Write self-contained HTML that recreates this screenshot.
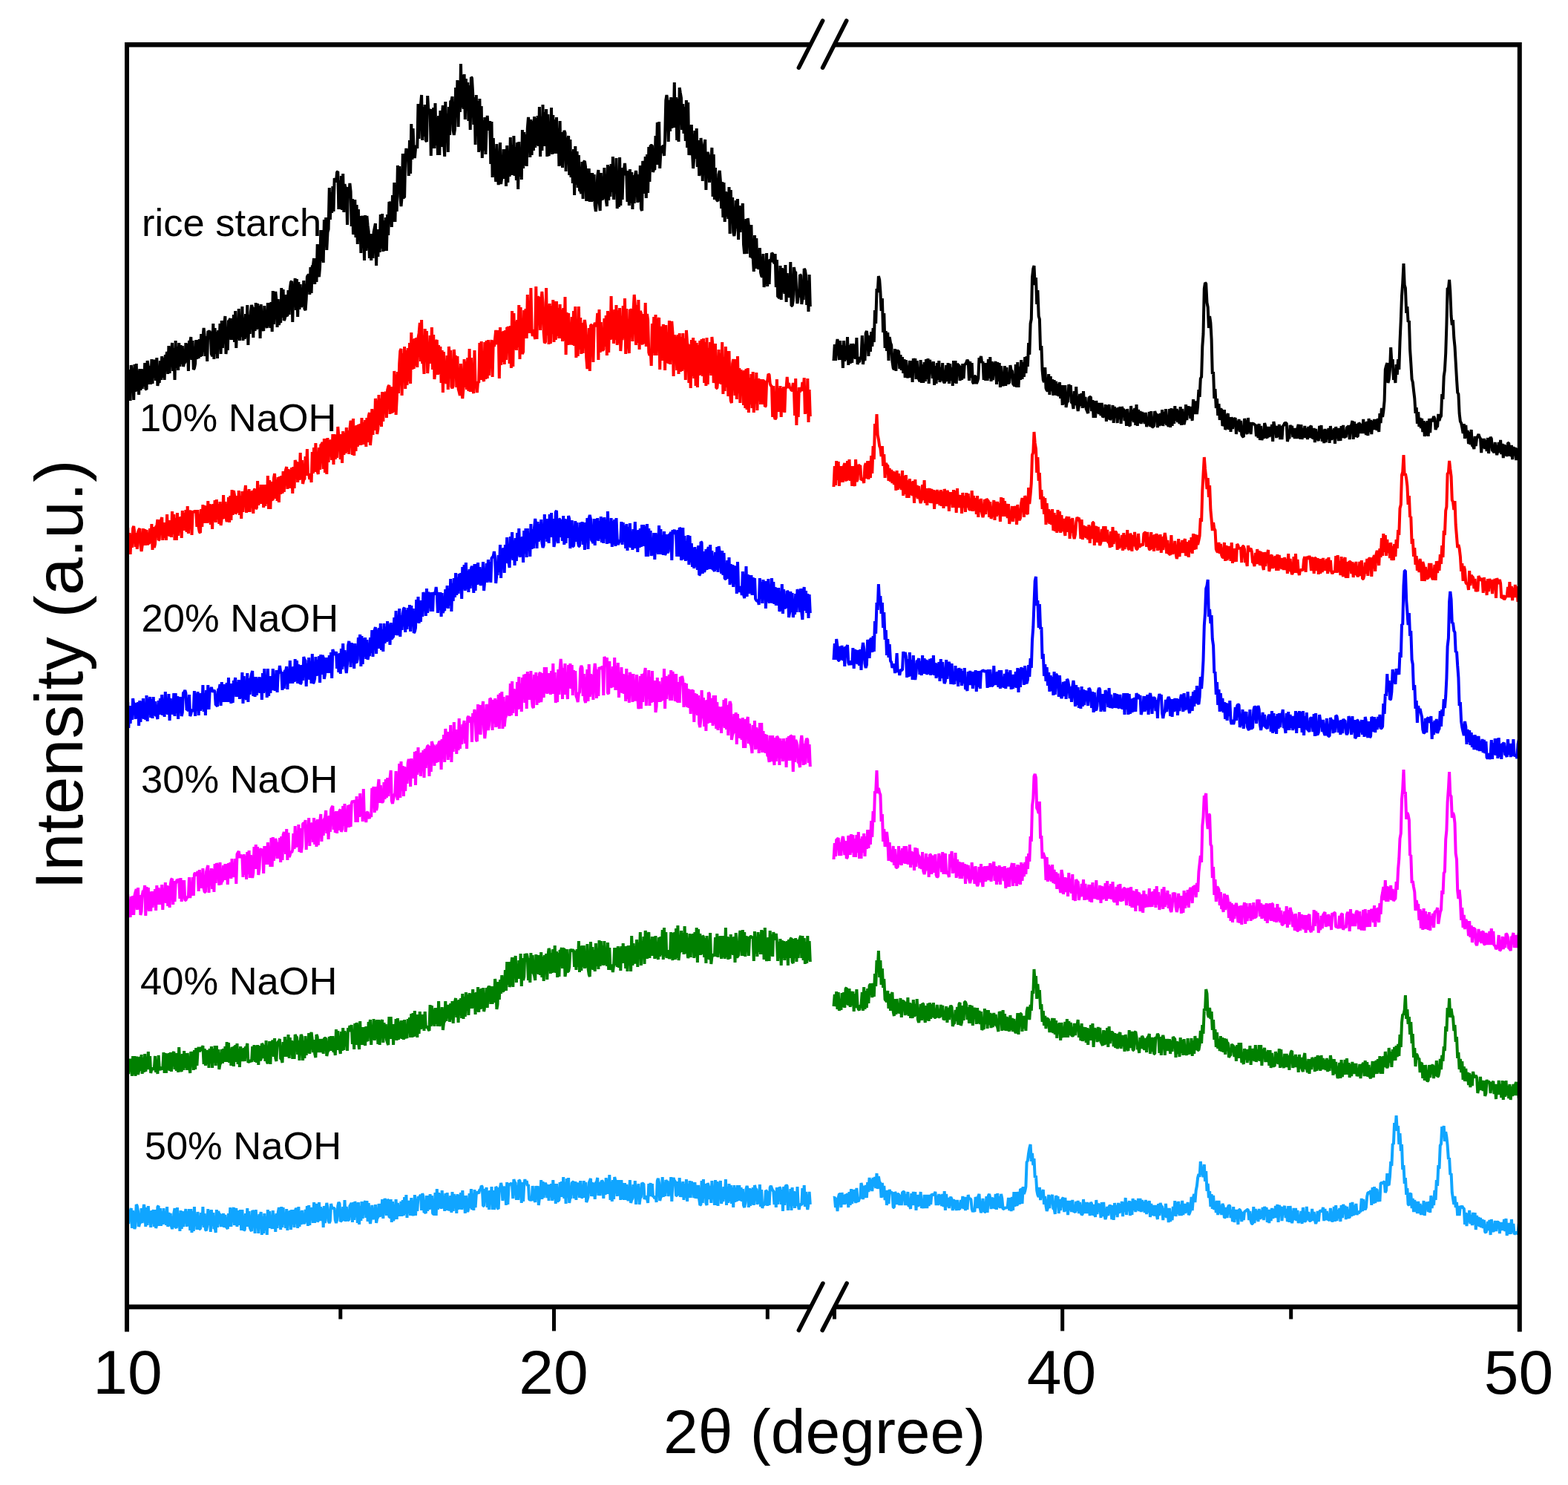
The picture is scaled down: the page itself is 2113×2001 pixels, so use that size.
<!DOCTYPE html>
<html><head><meta charset="utf-8"><title>XRD</title>
<style>html,body{margin:0;padding:0;background:#fff;}svg{display:block;}</style>
</head><body>
<svg xmlns="http://www.w3.org/2000/svg" width="2113" height="2001" viewBox="0 0 2113 2001">
<rect width="2113" height="2001" fill="#fff"/>
<g fill="none" stroke-width="4.0" stroke-linejoin="bevel" stroke-linecap="butt">
<polyline points="171,532 172.2,499 173.3,533 174.5,498 175.6,540 176.8,492 177.9,504 179.1,502 180.2,539 181.4,491 182.5,528 183.7,490 184.8,527 186,499 187.1,532 188.3,497 189.4,526 190.6,497 191.7,524 192.9,498 194,521 195.2,489 196.3,524 197.5,525 198.6,486 199.8,494 200.9,518 202.1,493 203.2,518 204.4,484 205.5,517 206.7,490 207.8,485 209,490 210.1,513 211.3,482 212.4,520 213.6,512 214.7,516 215.9,486 217,512 218.2,480 219.3,509 220.5,482 221.6,512 222.8,478 223.9,482 225.1,474 226.2,504 227.4,466 228.6,503 229.7,477 230.9,476 232,462 233.2,500 234.3,469 235.5,512 236.6,459 237.8,496 238.9,467 240.1,499 241.2,462 242.4,494 243.5,465 244.7,491 245.8,466 247,494 248.1,489 249.3,489 250.4,462 251.6,488 252.7,463 253.9,500 255,459 256.2,461 257.3,454 258.5,485 259.6,459 260.8,498 261.9,496 263.1,490 264.2,458 265.4,484 266.5,458 267.7,483 268.8,457 270,481 271.1,450 272.3,480 273.4,455 274.6,442 275.7,453 276.9,480 278,453 279.2,487 280.3,446 281.5,447 282.6,446 283.8,451 284.9,477 286.1,480 287.3,436 288.4,484 289.6,442 290.7,477 291.9,447 293,483 294.2,445 295.3,469 296.5,436 297.6,477 298.8,432 299.9,469 301.1,439 302.2,438 303.4,426 304.5,477 305.7,462 306.8,472 308,432 309.1,432 310.3,429 311.4,458 312.6,429 313.7,458 314.9,424 316,461 317.2,419 318.3,469 319.5,429 320.6,457 321.8,416 322.9,459 324.1,429 325.2,454 326.4,413 327.5,459 328.7,428 329.8,457 331,423 332.1,455 333.3,411 334.4,465 335.6,424 336.7,450 337.9,420 339,411 340.2,415 341.3,455 342.5,414 343.6,446 344.8,408 346,444 347.1,409 348.3,443 349.4,412 350.6,456 351.7,410 352.9,440 354,442 355.2,446 356.3,412 357.5,439 358.6,437 359.8,442 360.9,408 362.1,440 363.2,408 364.4,442 365.5,407 366.7,447 367.8,392 369,437 370.1,402 371.3,393 372.4,404 373.6,441 374.7,403 375.9,438 377,431 378.2,435 379.3,388 380.5,428 381.6,390 382.8,432 383.9,429 385.1,397 386.2,425 387.4,426 388.5,391 389.7,424 390.8,389 392,380 393.1,379 394.3,434 395.4,383 396.6,392 397.7,375 398.9,418 400,376 401.2,427 402.4,380 403.5,417 404.7,383 405.8,414 407,410 408.1,407 409.3,378 410.4,416 411.6,418 412.7,403 413.9,373 415,371 416.2,370 417.3,397 418.5,360 419.6,395 420.8,358 421.9,358 423.1,348 424.2,383 425.4,348 426.5,380 427.7,329 428.8,369 430,373 431.1,360 432.3,310 433.4,352 434.6,310 435.7,354 436.9,296 438,330 439.2,293 440.3,337 441.5,313 442.6,309 443.8,253 444.9,296 446.1,259 447.2,287 448.4,251 449.5,285 450.7,240 451.8,244 453,245 454.1,232 455.3,231 456.4,282 457.6,243 458.8,282 459.9,237 461.1,283 462.2,234 463.4,286 464.5,248 465.7,255 466.8,252 468,303 469.1,252 470.3,263 471.4,247 472.6,258 473.7,305 474.9,268 476,316 477.2,307 478.3,269 479.5,320 480.6,276 481.8,329 482.9,282 484.1,324 485.2,291 486.4,341 487.5,296 488.7,291 489.8,300 491,351 492.1,290 493.3,338 494.4,291 495.6,304 496.7,312 497.9,348 499,315 500.2,351 501.3,315 502.5,348 503.6,313 504.8,307 505.9,301 507.1,358 508.2,309 509.4,346 510.5,309 511.7,340 512.8,289 514,335 515.1,288 516.3,339 517.5,297 518.6,338 519.8,293 520.9,338 522.1,289 523.2,317 524.4,272 525.5,274 526.7,273 527.8,306 529,263 530.1,299 531.3,246 532.4,299 533.6,249 534.7,285 535.9,223 537,234 538.2,224 539.3,265 540.5,278 541.6,266 542.8,207 543.9,266 545.1,266 546.2,214 547.4,200 548.5,207 549.7,203 550.8,237 552,189 553.1,234 554.3,167 555.4,215 556.6,173 557.7,206 558.9,213 560,200 561.2,196 562.3,200 563.5,140 564.6,187 565.8,147 566.9,142 568.1,128 569.2,189 570.4,144 571.5,184 572.7,141 573.8,189 575,191 576.2,129 577.3,148 578.5,149 579.6,147 580.8,210 581.9,147 583.1,200 584.2,145 585.4,200 586.5,139 587.7,196 588.8,158 590,209 591.1,156 592.3,209 593.4,149 594.6,198 595.7,156 596.9,142 598,191 599.2,211 600.3,137 601.5,192 602.6,153 603.8,205 604.9,144 606.1,182 607.2,136 608.4,136 609.5,130 610.7,176 611.8,182 613,174 614.1,118 615.3,158 616.4,108 617.6,171 618.7,109 619.9,151 621,86 622.2,145 623.3,101 624.5,147 625.6,100 626.8,161 627.9,106 629.1,147 630.2,111 631.4,163 632.6,115 633.7,175 634.9,104 636,105 637.2,126 638.3,168 639.5,131 640.6,195 641.8,128 642.9,180 644.1,136 645.2,205 646.4,133 647.5,203 648.7,143 649.8,213 651,162 652.1,203 653.3,158 654.4,208 655.6,172 656.7,156 657.9,173 659,175 660.2,163 661.3,221 662.5,164 663.6,239 664.8,186 665.9,227 667.1,226 668.2,245 669.4,194 670.5,231 671.7,249 672.8,241 674,192 675.1,248 676.3,239 677.4,240 678.6,201 679.7,241 680.9,201 682,251 683.2,196 684.3,246 685.5,203 686.6,238 687.8,185 688.9,236 690.1,195 691.3,236 692.4,183 693.6,237 694.7,198 695.9,243 697,192 698.2,255 699.3,191 700.5,238 701.6,199 702.8,242 703.9,175 705.1,227 706.2,178 707.4,223 708.5,181 709.7,224 710.8,173 712,158 713.1,166 714.3,212 715.4,161 716.6,209 717.7,163 718.9,203 720,157 721.2,199 722.3,159 723.5,196 724.6,156 725.8,197 726.9,144 728.1,211 729.2,157 730.4,203 731.5,141 732.7,197 733.8,151 735,197 736.1,147 737.3,211 738.4,154 739.6,210 740.7,199 741.9,203 743,145 744.2,208 745.3,155 746.5,207 747.7,161 748.8,207 750,158 751.1,207 752.3,173 753.4,224 754.6,163 755.7,223 756.9,178 758,226 759.2,183 760.3,176 761.5,179 762.6,231 763.8,186 764.9,191 766.1,183 767.2,236 768.4,188 769.5,239 770.7,204 771.8,247 773,201 774.1,263 775.3,197 776.4,249 777.6,204 778.7,253 779.9,209 781,257 782.2,257 783.3,261 784.5,218 785.6,268 786.8,218 787.9,217 789.1,225 790.2,271 791.4,227 792.5,271 793.7,227 794.8,272 796,233 797.1,272 798.3,233 799.4,271 800.6,235 801.7,277 802.9,285 804,272 805.2,237 806.4,229 807.5,269 808.7,284 809.8,233 811,268 812.1,269 813.3,262 814.4,226 815.6,261 816.7,269 817.9,278 819,222 820.2,270 821.3,224 822.5,265 823.6,221 824.8,259 825.9,211 827.1,269 828.2,225 829.4,261 830.5,213 831.7,281 832.8,270 834,279 835.1,212 836.3,277 837.4,226 838.6,269 839.7,233 840.9,229 842,220 843.2,236 844.3,235 845.5,272 846.6,230 847.8,277 848.9,228 850.1,274 851.2,232 852.4,282 853.5,236 854.7,274 855.8,237 857,230 858.1,240 859.3,273 860.4,235 861.6,272 862.8,223 863.9,281 865.1,284 866.2,217 867.4,221 868.5,261 869.7,211 870.8,267 872,208 873.1,260 874.3,198 875.4,245 876.6,196 877.7,196 878.9,196 880,232 881.2,227 882.3,229 883.5,183 884.6,222 885.8,165 886.9,222 888.1,164 889.2,227 890.4,204 891.5,206 892.7,197 893.8,197 895,210 896.1,187 897.3,135 898.4,128 899.6,136 900.7,191 901.9,135 903,177 904.2,131 905.3,173 906.5,132 907.6,172 908.8,111 909.9,172 911.1,131 912.2,189 913.4,133 914.5,191 915.7,118 916.8,125 918,132 919.1,175 920.3,140 921.5,180 922.6,144 923.8,190 924.9,135 926.1,199 927.2,138 928.4,209 929.5,201 930.7,209 931.8,168 933,206 934.1,227 935.3,212 936.4,176 937.6,214 938.7,173 939.9,225 941,189 942.2,237 943.3,231 944.5,186 945.6,197 946.8,244 947.9,201 949.1,198 950.2,188 951.4,256 952.5,209 953.7,205 954.8,210 956,246 957.1,213 958.3,215 959.4,199 960.6,265 961.7,208 962.9,269 964,226 965.2,267 966.3,270 967.5,271 968.6,235 969.8,230 970.9,244 972.1,281 973.2,245 974.4,293 975.5,246 976.7,299 977.9,258 979,292 980.2,259 981.3,295 982.5,252 983.6,315 984.8,256 985.9,298 987.1,266 988.2,313 989.4,318 990.5,310 991.7,270 992.8,308 994,268 995.1,323 996.3,277 997.4,313 998.6,283 999.7,285 1000.9,274 1002,329 1003.2,342 1004.3,326 1005.5,295 1006.6,342 1007.8,294 1008.9,304 1010.1,304 1011.2,347 1012.4,303 1013.5,348 1014.7,347 1015.8,366 1017,317 1018.1,362 1019.3,321 1020.4,358 1021.6,361 1022.7,362 1023.9,334 1025,367 1026.2,372 1027.3,373 1028.5,342 1029.6,387 1030.8,377 1031.9,379 1033.1,341 1034.2,386 1035.4,350 1036.6,383 1037.7,349 1038.9,353 1040,341 1041.2,342 1042.3,352 1043.5,355 1044.6,342 1045.8,387 1046.9,350 1048.1,400 1049.2,400 1050.4,402 1051.5,358 1052.7,404 1053.8,361 1055,394 1056.1,362 1057.3,396 1058.4,357 1059.6,407 1060.7,368 1061.9,397 1063,399 1064.2,400 1065.3,353 1066.5,412 1067.6,412 1068.8,405 1069.9,360 1071.1,367 1072.2,366 1073.4,397 1074.5,409 1075.7,400 1076.8,399 1078,370 1079.1,371 1080.3,410 1081.4,402 1082.6,404 1083.7,362 1084.9,364 1086,371 1087.2,411 1088.3,378 1089.5,420 1090.6,370 1091.8,413" stroke="#000000"/>
<polyline points="1123.5,486 1124.8,464 1126,486 1127.2,466 1128.5,457 1129.7,466 1130.9,485 1132.2,459 1133.4,485 1134.6,465 1135.9,496 1137.1,459 1138.3,487 1139.6,466 1140.8,485 1142,454 1143.3,492 1144.5,465 1145.7,490 1147,463 1148.2,489 1149.4,463 1150.7,483 1151.9,464 1153.1,484 1154.4,455 1155.6,491 1156.8,487 1158.1,488 1159.3,481 1160.5,482 1161.8,452 1163,491 1164.2,481 1165.5,486 1166.7,449 1167.9,446 1169.2,456 1170.4,480 1171.6,452 1172.9,474 1174.1,447 1175.3,467 1176.6,442 1177.8,461 1179,418 1180.2,436 1181.5,389 1182.7,394 1183.9,372 1185.2,377 1186.4,393 1187.6,419 1188.9,402 1190.1,448 1191.3,422 1192.6,469 1193.8,446 1195,473 1196.3,448 1197.5,486 1198.7,454 1200,462 1201.2,465 1202.4,487 1203.7,496 1204.9,498 1206.1,470 1207.4,500 1208.6,473 1209.8,473 1211.1,473 1212.3,497 1213.5,478 1214.8,499 1216,481 1217.2,503 1218.5,484 1219.7,509 1220.9,485 1222.2,506 1223.4,509 1224.6,505 1225.9,486 1227.1,509 1228.3,486 1229.6,515 1230.8,483 1232,490 1233.3,483 1234.5,511 1235.7,486 1236.9,509 1238.2,511 1239.4,514 1240.6,485 1241.9,516 1243.1,491 1244.3,516 1245.6,488 1246.8,514 1248,484 1249.3,511 1250.5,483 1251.7,517 1253,485 1254.2,491 1255.4,489 1256.7,510 1257.9,487 1259.1,519 1260.4,493 1261.6,517 1262.8,489 1264.1,512 1265.3,486 1266.5,515 1267.8,495 1269,513 1270.2,489 1271.5,514 1272.7,516 1273.9,513 1275.2,492 1276.4,514 1277.6,489 1278.9,517 1280.1,490 1281.3,513 1282.6,495 1283.8,520 1285,486 1286.3,516 1287.5,486 1288.7,517 1290,490 1291.2,492 1292.4,492 1293.6,513 1294.9,493 1296.1,512 1297.3,490 1298.6,510 1299.8,491 1301,491 1302.3,488 1303.5,485 1304.7,487 1306,513 1307.2,487 1308.4,509 1309.7,489 1310.9,515 1312.1,517 1313.4,507 1314.6,507 1315.8,517 1317.1,514 1318.3,510 1319.5,482 1320.8,485 1322,480 1323.2,489 1324.5,487 1325.7,512 1326.9,489 1328.2,513 1329.4,489 1330.6,513 1331.9,484 1333.1,510 1334.3,481 1335.6,514 1336.8,487 1338,512 1339.3,495 1340.5,491 1341.7,487 1343,518 1344.2,488 1345.4,514 1346.7,489 1347.9,522 1349.1,493 1350.3,516 1351.6,520 1352.8,515 1354,493 1355.3,520 1356.5,495 1357.7,516 1359,516 1360.2,516 1361.4,492 1362.7,499 1363.9,500 1365.1,517 1366.4,519 1367.6,520 1368.8,491 1370.1,522 1371.3,488 1372.5,522 1373.8,494 1375,512 1376.2,485 1377.5,511 1378.7,488 1379.9,508 1381.2,481 1382.4,503 1383.6,480 1384.9,494 1386.1,462 1387.3,478 1388.6,436 1389.8,430 1391,374 1392.3,362 1393.5,358 1394.7,384 1396,374 1397.2,410 1398.4,391 1399.7,426 1400.9,430 1402.1,472 1403.4,466 1404.6,499 1405.8,512 1407,515 1408.3,495 1409.5,523 1410.7,526 1412,527 1413.2,504 1414.4,532 1415.7,507 1416.9,527 1418.1,511 1419.4,533 1420.6,512 1421.8,532 1423.1,514 1424.3,533 1425.5,517 1426.8,534 1428,515 1429.2,537 1430.5,519 1431.7,546 1432.9,519 1434.2,545 1435.4,519 1436.6,549 1437.9,541 1439.1,542 1440.3,518 1441.6,524 1442.8,519 1444,543 1445.3,543 1446.5,551 1447.7,527 1449,546 1450.2,521 1451.4,545 1452.7,554 1453.9,547 1455.1,531 1456.4,547 1457.6,530 1458.8,550 1460,527 1461.3,549 1462.5,535 1463.7,551 1465,554 1466.2,557 1467.4,536 1468.7,535 1469.9,535 1471.1,554 1472.4,539 1473.6,563 1474.8,540 1476.1,563 1477.3,540 1478.5,557 1479.8,543 1481,558 1482.2,543 1483.5,560 1484.7,543 1485.9,562 1487.2,561 1488.4,560 1489.6,545 1490.9,568 1492.1,546 1493.3,565 1494.6,545 1495.8,566 1497,563 1498.3,563 1499.5,546 1500.7,570 1502,548 1503.2,563 1504.4,550 1505.7,570 1506.9,549 1508.1,565 1509.4,548 1510.6,571 1511.8,548 1513.1,552 1514.3,551 1515.5,567 1516.7,552 1518,574 1519.2,551 1520.4,566 1521.7,573 1522.9,574 1524.1,547 1525.4,567 1526.6,552 1527.8,569 1529.1,550 1530.3,573 1531.5,545 1532.8,574 1534,552 1535.2,570 1536.5,554 1537.7,571 1538.9,555 1540.2,569 1541.4,556 1542.6,571 1543.9,556 1545.1,575 1546.3,571 1547.6,572 1548.8,555 1550,575 1551.3,554 1552.5,576 1553.7,575 1555,574 1556.2,554 1557.4,558 1558.7,558 1559.9,576 1561.1,558 1562.4,574 1563.6,557 1564.8,573 1566.1,552 1567.3,574 1568.5,555 1569.8,571 1571,551 1572.2,573 1573.4,571 1574.7,575 1575.9,551 1577.1,576 1578.4,550 1579.6,574 1580.8,551 1582.1,571 1583.3,547 1584.5,567 1585.8,551 1587,569 1588.2,553 1589.5,571 1590.7,548 1591.9,573 1593.2,551 1594.4,567 1595.6,572 1596.9,566 1598.1,545 1599.3,566 1600.6,549 1601.8,549 1603,549 1604.3,564 1605.5,548 1606.7,567 1608,538 1609.2,558 1610.4,543 1611.7,541 1612.9,558 1614.1,547 1615.4,525 1616.6,535 1617.8,510 1619.1,508 1620.3,467 1621.5,450 1622.8,389 1624,381 1625.2,382 1626.5,408 1627.7,414 1628.9,442 1630.1,426 1631.4,435 1632.6,457 1633.8,504 1635.1,501 1636.3,537 1637.5,524 1638.8,550 1640,537 1641.2,560 1642.5,544 1643.7,566 1644.9,551 1646.2,552 1647.4,574 1648.6,571 1649.9,552 1651.1,579 1652.3,576 1653.6,561 1654.8,557 1656,579 1657.3,562 1658.5,582 1659.7,562 1661,578 1662.2,565 1663.4,565 1664.7,563 1665.9,585 1667.1,567 1668.4,580 1669.6,565 1670.8,582 1672.1,567 1673.3,586 1674.5,588 1675.8,589 1677,564 1678.2,569 1679.5,582 1680.7,585 1681.9,563 1683.2,583 1684.4,569 1685.6,585 1686.8,570 1688.1,571 1689.3,571 1690.5,572 1691.8,573 1693,588 1694.2,572 1695.5,590 1696.7,571 1697.9,593 1699.2,574 1700.4,593 1701.6,588 1702.9,591 1704.1,570 1705.3,574 1706.6,589 1707.8,590 1709,575 1710.3,589 1711.5,575 1712.7,588 1714,572 1715.2,595 1716.4,568 1717.7,575 1718.9,575 1720.1,590 1721.4,574 1722.6,589 1723.8,572 1725.1,592 1726.3,574 1727.5,592 1728.8,574 1730,573 1731.2,570 1732.5,570 1733.7,570 1734.9,595 1736.2,589 1737.4,591 1738.6,573 1739.9,576 1741.1,574 1742.3,589 1743.5,577 1744.8,591 1746,577 1747.2,591 1748.5,577 1749.7,572 1750.9,590 1752.2,590 1753.4,572 1754.6,592 1755.9,577 1757.1,590 1758.3,574 1759.6,590 1760.8,577 1762,592 1763.3,575 1764.5,590 1765.7,575 1767,574 1768.2,590 1769.4,590 1770.7,577 1771.9,596 1773.1,578 1774.4,591 1775.6,591 1776.8,594 1778.1,574 1779.3,591 1780.5,573 1781.8,595 1783,579 1784.2,597 1785.5,578 1786.7,596 1787.9,579 1789.2,592 1790.4,577 1791.6,597 1792.9,574 1794.1,593 1795.3,579 1796.5,592 1797.8,577 1799,598 1800.2,575 1801.5,591 1802.7,577 1803.9,594 1805.2,577 1806.4,594 1807.6,574 1808.9,590 1810.1,573 1811.3,590 1812.6,588 1813.8,589 1815,576 1816.3,575 1817.5,574 1818.7,592 1820,574 1821.2,573 1822.4,567 1823.7,592 1824.9,568 1826.1,589 1827.4,571 1828.6,588 1829.8,588 1831.1,570 1832.3,571 1833.5,584 1834.8,571 1836,584 1837.2,565 1838.5,584 1839.7,569 1840.9,586 1842.2,568 1843.4,587 1844.6,564 1845.9,582 1847.1,566 1848.3,585 1849.6,567 1850.8,579 1852,565 1853.2,579 1854.5,565 1855.7,580 1856.9,564 1858.2,582 1859.4,557 1860.6,570 1861.9,550 1863.1,562 1864.3,554 1865.6,540 1866.8,498 1868,493 1869.3,489 1870.5,516 1871.7,511 1873,498 1874.2,468 1875.4,488 1876.7,484 1877.9,512 1879.1,501 1880.4,516 1881.6,491 1882.8,505 1884.1,484 1885.3,498 1886.5,461 1887.8,431 1889,399 1890.2,382 1891.5,355 1892.7,384 1893.9,388 1895.2,422 1896.4,413 1897.6,434 1898.9,432 1900.1,471 1901.3,489 1902.6,511 1903.8,515 1905,526 1906.3,537 1907.5,557 1908.7,549 1909.9,571 1911.2,555 1912.4,575 1913.6,563 1914.9,577 1916.1,564 1917.3,582 1918.6,567 1919.8,588 1921,569 1922.3,587 1923.5,567 1924.7,588 1926,564 1927.2,583 1928.4,564 1929.7,568 1930.9,565 1932.1,561 1933.4,564 1934.6,579 1935.8,575 1937.1,575 1938.3,558 1939.5,567 1940.8,562 1942,561 1943.2,531 1944.5,538 1945.7,507 1946.9,499 1948.2,476 1949.4,438 1950.6,388 1951.9,389 1953.1,377 1954.3,393 1955.6,426 1956.8,438 1958,431 1959.3,455 1960.5,467 1961.7,488 1963,511 1964.2,529 1965.4,531 1966.6,557 1967.9,568 1969.1,570 1970.3,576 1971.6,584 1972.8,571 1974,591 1975.3,573 1976.5,590 1977.7,580 1979,598 1980.2,582 1981.4,599 1982.7,579 1983.9,601 1985.1,601 1986.4,605 1987.6,588 1988.8,601 1990.1,590 1991.3,588 1992.5,585 1993.8,589 1995,591 1996.2,610 1997.5,591 1998.7,604 1999.9,591 2001.2,605 2002.4,593 2003.6,608 2004.9,590 2006.1,611 2007.3,594 2008.6,589 2009.8,591 2011,607 2012.3,608 2013.5,610 2014.7,596 2016,608 2017.2,613 2018.4,608 2019.7,596 2020.9,610 2022.1,593 2023.3,612 2024.6,598 2025.8,617 2027,599 2028.3,614 2029.5,600 2030.7,615 2032,597 2033.2,597 2034.4,614 2035.7,613 2036.9,600 2038.1,619 2039.4,602 2040.6,614 2041.8,603 2043.1,620 2044.3,604 2045.5,615 2046.8,604 2048,599" stroke="#000000"/>
<polyline points="171,743 172.2,711 173.3,743 174.5,718 175.6,747 176.8,720 177.9,738 179.1,712 180.2,709 181.4,719 182.5,737 183.7,718 184.8,740 186,717 187.1,714 188.3,712 189.4,735 190.6,743 191.7,735 192.9,712 194,735 195.2,713 196.3,735 197.5,714 198.6,734 199.8,732 200.9,733 202.1,712 203.2,732 204.4,706 205.5,741 206.7,710 207.8,738 209,733 210.1,709 211.3,709 212.4,700 213.6,728 214.7,727 215.9,702 217,701 218.2,697 219.3,728 220.5,704 221.6,725 222.8,704 223.9,728 225.1,693 226.2,722 227.4,701 228.6,723 229.7,701 230.9,724 232,689 233.2,720 234.3,693 235.5,728 236.6,698 237.8,728 238.9,691 240.1,722 241.2,697 242.4,717 243.5,696 244.7,725 245.8,688 247,715 248.1,691 249.3,715 250.4,687 251.6,717 252.7,682 253.9,719 255,692 256.2,690 257.3,688 258.5,721 259.6,689 260.8,690 261.9,689 263.1,689 264.2,689 265.4,710 266.5,687 267.7,711 268.8,717 270,718 271.1,686 272.3,710 273.4,680 274.6,705 275.7,681 276.9,705 278,682 279.2,705 280.3,675 281.5,704 282.6,679 283.8,707 284.9,680 286.1,713 287.3,679 288.4,702 289.6,674 290.7,704 291.9,673 293,700 294.2,679 295.3,706 296.5,676 297.6,708 298.8,699 299.9,699 301.1,667 302.2,699 303.4,676 304.5,697 305.7,703 306.8,696 308,670 309.1,704 310.3,668 311.4,701 312.6,660 313.7,694 314.9,661 316,667 317.2,692 318.3,691 319.5,668 320.6,691 321.8,661 322.9,694 324.1,668 325.2,699 326.4,662 327.5,690 328.7,666 329.8,663 331,654 332.1,691 333.3,661 334.4,690 335.6,659 336.7,690 337.9,662 339,684 340.2,661 341.3,692 342.5,660 343.6,659 344.8,686 346,684 347.1,648 348.3,681 349.4,657 350.6,679 351.7,653 352.9,679 354,653 355.2,684 356.3,653 357.5,682 358.6,653 359.8,679 360.9,641 362.1,686 363.2,647 364.4,686 365.5,649 366.7,673 367.8,674 369,644 370.1,638 371.3,672 372.4,646 373.6,675 374.7,643 375.9,677 377,642 378.2,666 379.3,641 380.5,665 381.6,635 382.8,663 383.9,638 385.1,633 386.2,629 387.4,659 388.5,632 389.7,658 390.8,633 392,658 393.1,630 394.3,665 395.4,629 396.6,658 397.7,620 398.9,624 400,622 401.2,650 402.4,623 403.5,647 404.7,610 405.8,646 407,620 408.1,652 409.3,646 410.4,646 411.6,615 412.7,641 413.9,605 415,639 416.2,639 417.3,646 418.5,638 419.6,650 420.8,609 421.9,638 423.1,603 424.2,636 425.4,597 426.5,631 427.7,635 428.8,639 430,603 431.1,633 432.3,599 433.4,599 434.6,596 435.7,632 436.9,591 438,637 439.2,591 440.3,639 441.5,590 442.6,623 443.8,595 444.9,595 446.1,593 447.2,620 448.4,585 449.5,626 450.7,585 451.8,619 453,586 454.1,617 455.3,575 456.4,588 457.6,586 458.8,619 459.9,585 461.1,624 462.2,581 463.4,613 464.5,583 465.7,611 466.8,576 468,609 469.1,580 470.3,612 471.4,578 472.6,567 473.7,570 474.9,613 476,564 477.2,614 478.3,574 479.5,608 480.6,573 481.8,602 482.9,572 484.1,600 485.2,571 486.4,600 487.5,563 488.7,599 489.8,569 491,599 492.1,566 493.3,602 494.4,563 495.6,596 496.7,561 497.9,556 499,600 500.2,587 501.3,551 502.5,586 503.6,553 504.8,580 505.9,537 507.1,546 508.2,585 509.4,578 510.5,532 511.7,573 512.8,537 514,575 515.1,528 516.3,568 517.5,534 518.6,531 519.8,528 520.9,563 522.1,526 523.2,521 524.4,519 525.5,558 526.7,521 527.8,555 529,555 530.1,553 531.3,500 532.4,514 533.6,559 534.7,538 535.9,501 537,530 538.2,490 539.3,473 540.5,470 541.6,533 542.8,476 543.9,511 545.1,467 546.2,524 547.4,472 548.5,519 549.7,469 550.8,514 552,462 553.1,517 554.3,448 555.4,498 556.6,457 557.7,497 558.9,456 560,493 561.2,455 562.3,495 563.5,455 564.6,449 565.8,435 566.9,487 568.1,431 569.2,490 570.4,485 571.5,504 572.7,443 573.8,488 575,446 576.2,503 577.3,487 578.5,489 579.6,452 580.8,490 581.9,441 583.1,498 584.2,451 585.4,511 586.5,501 587.7,461 588.8,458 590,505 591.1,465 592.3,504 593.4,467 594.6,516 595.7,472 596.9,529 598,474 599.2,512 600.3,512 601.5,517 602.6,479 603.8,525 604.9,467 606.1,483 607.2,472 608.4,521 609.5,523 610.7,520 611.8,471 613,485 614.1,479 615.3,522 616.4,480 617.6,524 618.7,528 619.9,533 621,490 622.2,529 623.3,537 624.5,523 625.6,484 626.8,522 627.9,487 629.1,525 630.2,482 631.4,527 632.6,470 633.7,528 634.9,482 636,521 637.2,525 638.3,530 639.5,472 640.6,520 641.8,514 642.9,529 644.1,514 645.2,516 646.4,462 647.5,512 648.7,460 649.8,511 651,510 652.1,514 653.3,461 654.4,511 655.6,459 656.7,510 657.9,458 659,506 660.2,469 661.3,470 662.5,458 663.6,508 664.8,459 665.9,467 667.1,456 668.2,445 669.4,464 670.5,461 671.7,445 672.8,510 674,441 675.1,492 676.3,447 677.4,488 678.6,446 679.7,491 680.9,445 682,485 683.2,441 684.3,442 685.5,441 686.6,490 687.8,439 688.9,496 690.1,419 691.3,494 692.4,422 693.6,471 694.7,433 695.9,472 697,431 698.2,468 699.3,411 700.5,484 701.6,414 702.8,464 703.9,477 705.1,474 706.2,418 707.4,456 708.5,416 709.7,456 710.8,397 712,449 713.1,405 714.3,449 715.4,388 716.6,444 717.7,453 718.9,444 720,451 721.2,457 722.3,386 723.5,457 724.6,400 725.8,401 726.9,403 728.1,445 729.2,406 730.4,393 731.5,408 732.7,448 733.8,462 735,461 736.1,388 737.3,452 738.4,411 739.6,464 740.7,409 741.9,463 743,412 744.2,450 745.3,404 746.5,461 747.7,406 748.8,458 750,406 751.1,453 752.3,415 753.4,456 754.6,410 755.7,456 756.9,417 758,460 759.2,415 760.3,459 761.5,400 762.6,478 763.8,421 764.9,465 766.1,422 767.2,464 768.4,462 769.5,463 770.7,427 771.8,465 773,419 774.1,466 775.3,413 776.4,482 777.6,430 778.7,480 779.9,413 781,471 782.2,428 783.3,477 784.5,435 785.6,476 786.8,439 787.9,431 789.1,440 790.2,482 791.4,497 792.5,482 793.7,442 794.8,500 796,438 797.1,438 798.3,443 799.4,488 800.6,439 801.7,435 802.9,437 804,440 805.2,422 806.4,485 807.5,417 808.7,475 809.8,434 811,471 812.1,472 813.3,471 814.4,429 815.6,467 816.7,425 817.9,479 819,419 820.2,475 821.3,421 822.5,458 823.6,399 824.8,457 825.9,419 827.1,463 828.2,417 829.4,458 830.5,411 831.7,465 832.8,418 834,463 835.1,415 836.3,473 837.4,457 838.6,458 839.7,412 840.9,456 842,402 843.2,477 844.3,416 845.5,469 846.6,457 847.8,476 848.9,417 850.1,418 851.2,417 852.4,460 853.5,418 854.7,397 855.8,410 857,465 858.1,411 859.3,462 860.4,404 861.6,471 862.8,419 863.9,422 865.1,462 866.2,464 867.4,423 868.5,463 869.7,408 870.8,467 872,423 873.1,431 874.3,475 875.4,479 876.6,471 877.7,493 878.9,436 880,476 881.2,427 882.3,479 883.5,424 884.6,479 885.8,441 886.9,433 888.1,428 889.2,498 890.4,444 891.5,440 892.7,486 893.8,437 895,447 896.1,499 897.3,438 898.4,486 899.6,488 900.7,488 901.9,432 903,491 904.2,443 905.3,433 906.5,449 907.6,507 908.8,451 909.9,488 911.1,453 912.2,499 913.4,451 914.5,504 915.7,449 916.8,501 918,454 919.1,500 920.3,449 921.5,498 922.6,456 923.8,512 924.9,445 926.1,462 927.2,466 928.4,516 929.5,464 930.7,523 931.8,458 933,507 934.1,455 935.3,510 936.4,459 937.6,520 938.7,462 939.9,522 941,465 942.2,506 943.3,459 944.5,505 945.6,457 946.8,507 947.9,456 949.1,516 950.2,461 951.4,520 952.5,455 953.7,518 954.8,469 956,503 957.1,461 958.3,506 959.4,454 960.6,467 961.7,516 962.9,506 964,463 965.2,523 966.3,523 967.5,511 968.6,471 969.8,517 970.9,476 972.1,518 973.2,461 974.4,531 975.5,481 976.7,527 977.9,467 979,522 980.2,473 981.3,534 982.5,473 983.6,522 984.8,540 985.9,543 987.1,490 988.2,484 989.4,492 990.5,533 991.7,484 992.8,538 994,480 995.1,530 996.3,496 997.4,543 998.6,498 999.7,533 1000.9,500 1002,546 1003.2,499 1004.3,550 1005.5,497 1006.6,552 1007.8,496 1008.9,556 1010.1,509 1011.2,545 1012.4,504 1013.5,550 1014.7,501 1015.8,556 1017,511 1018.1,544 1019.3,502 1020.4,553 1021.6,511 1022.7,512 1023.9,512 1025,545 1026.2,511 1027.3,545 1028.5,513 1029.6,513 1030.8,548 1031.9,547 1033.1,515 1034.2,513 1035.4,504 1036.6,505 1037.7,517 1038.9,520 1040,520 1041.2,562 1042.3,520 1043.5,561 1044.6,565 1045.8,563 1046.9,511 1048.1,555 1049.2,523 1050.4,555 1051.5,520 1052.7,562 1053.8,523 1055,555 1056.1,521 1057.3,556 1058.4,524 1059.6,522 1060.7,508 1061.9,523 1063,516 1064.2,523 1065.3,523 1066.5,526 1067.6,526 1068.8,516 1069.9,524 1071.1,560 1072.2,510 1073.4,573 1074.5,527 1075.7,562 1076.8,522 1078,528 1079.1,525 1080.3,526 1081.4,515 1082.6,527 1083.7,509 1084.9,558 1086,524 1087.2,557 1088.3,510 1089.5,569 1090.6,525 1091.8,561" stroke="#ff0000"/>
<polyline points="1123.5,656 1124.8,628 1126,654 1127.2,621 1128.5,647 1129.7,622 1130.9,655 1132.2,628 1133.4,650 1134.6,628 1135.9,650 1137.1,628 1138.3,624 1139.6,646 1140.8,648 1142,621 1143.3,647 1144.5,619 1145.7,648 1147,628 1148.2,655 1149.4,628 1150.7,650 1151.9,655 1153.1,619 1154.4,649 1155.6,646 1156.8,626 1158.1,628 1159.3,627 1160.5,647 1161.8,646 1163,645 1164.2,651 1165.5,628 1166.7,624 1167.9,645 1169.2,621 1170.4,646 1171.6,621 1172.9,644 1174.1,614 1175.3,638 1176.6,601 1177.8,619 1179,571 1180.2,586 1181.5,558 1182.7,586 1183.9,592 1185.2,601 1186.4,604 1187.6,615 1188.9,601 1190.1,628 1191.3,612 1192.6,644 1193.8,624 1195,627 1196.3,627 1197.5,648 1198.7,631 1200,649 1201.2,633 1202.4,651 1203.7,635 1204.9,653 1206.1,636 1207.4,661 1208.6,634 1209.8,660 1211.1,638 1212.3,658 1213.5,642 1214.8,660 1216,634 1217.2,668 1218.5,641 1219.7,666 1220.9,640 1222.2,671 1223.4,647 1224.6,671 1225.9,645 1227.1,667 1228.3,649 1229.6,668 1230.8,648 1232,678 1233.3,646 1234.5,670 1235.7,654 1236.9,672 1238.2,655 1239.4,672 1240.6,678 1241.9,674 1243.1,653 1244.3,674 1245.6,647 1246.8,678 1248,658 1249.3,681 1250.5,658 1251.7,677 1253,658 1254.2,678 1255.4,659 1256.7,678 1257.9,660 1259.1,686 1260.4,661 1261.6,679 1262.8,660 1264.1,679 1265.3,662 1266.5,681 1267.8,660 1269,682 1270.2,662 1271.5,685 1272.7,659 1273.9,664 1275.2,682 1276.4,661 1277.6,664 1278.9,689 1280.1,666 1281.3,664 1282.6,666 1283.8,684 1285,660 1286.3,684 1287.5,661 1288.7,691 1290,658 1291.2,684 1292.4,667 1293.6,684 1294.9,667 1296.1,692 1297.3,664 1298.6,684 1299.8,668 1301,690 1302.3,664 1303.5,684 1304.7,665 1306,686 1307.2,687 1308.4,686 1309.7,661 1310.9,689 1312.1,668 1313.4,688 1314.6,671 1315.8,693 1317.1,668 1318.3,697 1319.5,673 1320.8,690 1322,672 1323.2,691 1324.5,697 1325.7,692 1326.9,673 1328.2,693 1329.4,672 1330.6,674 1331.9,675 1333.1,697 1334.3,676 1335.6,699 1336.8,693 1338,693 1339.3,674 1340.5,701 1341.7,676 1343,696 1344.2,676 1345.4,694 1346.7,678 1347.9,703 1349.1,670 1350.3,696 1351.6,671 1352.8,696 1354,675 1355.3,696 1356.5,679 1357.7,698 1359,679 1360.2,706 1361.4,698 1362.7,697 1363.9,682 1365.1,703 1366.4,682 1367.6,698 1368.8,682 1370.1,707 1371.3,680 1372.5,697 1373.8,701 1375,698 1376.2,678 1377.5,671 1378.7,675 1379.9,697 1381.2,668 1382.4,673 1383.6,691 1384.9,693 1386.1,657 1387.3,679 1388.6,666 1389.8,651 1391,613 1392.3,610 1393.5,582 1394.7,597 1396,605 1397.2,637 1398.4,616 1399.7,648 1400.9,637 1402.1,673 1403.4,660 1404.6,686 1405.8,669 1407,693 1408.3,671 1409.5,707 1410.7,678 1412,704 1413.2,686 1414.4,706 1415.7,688 1416.9,707 1418.1,686 1419.4,715 1420.6,691 1421.8,716 1423.1,694 1424.3,718 1425.5,687 1426.8,716 1428,689 1429.2,718 1430.5,694 1431.7,716 1432.9,699 1434.2,715 1435.4,722 1436.6,700 1437.9,696 1439.1,717 1440.3,696 1441.6,726 1442.8,699 1444,718 1445.3,698 1446.5,721 1447.7,726 1449,720 1450.2,704 1451.4,697 1452.7,699 1453.9,698 1455.1,704 1456.4,726 1457.6,700 1458.8,727 1460,708 1461.3,724 1462.5,709 1463.7,725 1465,710 1466.2,727 1467.4,707 1468.7,732 1469.9,709 1471.1,726 1472.4,704 1473.6,704 1474.8,735 1476.1,712 1477.3,709 1478.5,731 1479.8,710 1481,728 1482.2,735 1483.5,731 1484.7,713 1485.9,730 1487.2,709 1488.4,730 1489.6,709 1490.9,730 1492.1,714 1493.3,731 1494.6,731 1495.8,738 1497,716 1498.3,737 1499.5,710 1500.7,733 1502,718 1503.2,716 1504.4,718 1505.7,741 1506.9,719 1508.1,739 1509.4,735 1510.6,736 1511.8,721 1513.1,742 1514.3,718 1515.5,740 1516.7,721 1518,737 1519.2,714 1520.4,739 1521.7,741 1522.9,719 1524.1,721 1525.4,743 1526.6,721 1527.8,736 1529.1,717 1530.3,736 1531.5,740 1532.8,740 1534,719 1535.2,737 1536.5,736 1537.7,734 1538.9,734 1540.2,735 1541.4,719 1542.6,718 1543.9,717 1545.1,737 1546.3,717 1547.6,734 1548.8,740 1550,741 1551.3,717 1552.5,740 1553.7,721 1555,743 1556.2,720 1557.4,738 1558.7,719 1559.9,742 1561.1,721 1562.4,741 1563.6,720 1564.8,745 1566.1,723 1567.3,741 1568.5,726 1569.8,718 1571,726 1572.2,746 1573.4,728 1574.7,746 1575.9,746 1577.1,748 1578.4,721 1579.6,746 1580.8,745 1582.1,744 1583.3,729 1584.5,746 1585.8,753 1587,747 1588.2,726 1589.5,750 1590.7,731 1591.9,745 1593.2,728 1594.4,745 1595.6,730 1596.9,726 1598.1,749 1599.3,745 1600.6,730 1601.8,751 1603,728 1604.3,744 1605.5,724 1606.7,746 1608,719 1609.2,741 1610.4,720 1611.7,740 1612.9,721 1614.1,734 1615.4,728 1616.6,722 1617.8,698 1619.1,703 1620.3,661 1621.5,639 1622.8,616 1624,632 1625.2,643 1626.5,659 1627.7,644 1628.9,670 1630.1,654 1631.4,687 1632.6,700 1633.8,715 1635.1,704 1636.3,713 1637.5,714 1638.8,740 1640,743 1641.2,744 1642.5,731 1643.7,746 1644.9,733 1646.2,748 1647.4,751 1648.6,751 1649.9,731 1651.1,756 1652.3,735 1653.6,755 1654.8,736 1656,753 1657.3,736 1658.5,756 1659.7,731 1661,759 1662.2,739 1663.4,757 1664.7,739 1665.9,757 1667.1,733 1668.4,735 1669.6,740 1670.8,738 1672.1,740 1673.3,758 1674.5,736 1675.8,736 1677,740 1678.2,758 1679.5,756 1680.7,763 1681.9,735 1683.2,743 1684.4,740 1685.6,739 1686.8,743 1688.1,758 1689.3,758 1690.5,763 1691.8,745 1693,760 1694.2,740 1695.5,760 1696.7,742 1697.9,762 1699.2,745 1700.4,745 1701.6,762 1702.9,768 1704.1,744 1705.3,763 1706.6,749 1707.8,747 1709,741 1710.3,770 1711.5,764 1712.7,749 1714,748 1715.2,766 1716.4,750 1717.7,765 1718.9,749 1720.1,769 1721.4,747 1722.6,769 1723.8,748 1725.1,766 1726.3,752 1727.5,767 1728.8,752 1730,768 1731.2,751 1732.5,768 1733.7,753 1734.9,773 1736.2,746 1737.4,770 1738.6,753 1739.9,769 1741.1,774 1742.3,771 1743.5,750 1744.8,772 1746,746 1747.2,772 1748.5,754 1749.7,770 1750.9,775 1752.2,768 1753.4,768 1754.6,768 1755.9,768 1757.1,754 1758.3,750 1759.6,771 1760.8,750 1762,752 1763.3,753 1764.5,749 1765.7,754 1767,769 1768.2,753 1769.4,751 1770.7,773 1771.9,752 1773.1,752 1774.4,769 1775.6,752 1776.8,774 1778.1,753 1779.3,773 1780.5,753 1781.8,771 1783,752 1784.2,769 1785.5,755 1786.7,769 1787.9,753 1789.2,773 1790.4,751 1791.6,770 1792.9,755 1794.1,770 1795.3,773 1796.5,771 1797.8,770 1799,770 1800.2,749 1801.5,772 1802.7,748 1803.9,771 1805.2,756 1806.4,775 1807.6,750 1808.9,771 1810.1,777 1811.3,755 1812.6,751 1813.8,779 1815,757 1816.3,779 1817.5,758 1818.7,757 1820,757 1821.2,773 1822.4,757 1823.7,778 1824.9,759 1826.1,775 1827.4,757 1828.6,774 1829.8,777 1831.1,774 1832.3,757 1833.5,776 1834.8,755 1836,780 1837.2,780 1838.5,775 1839.7,758 1840.9,773 1842.2,753 1843.4,776 1844.6,753 1845.9,752 1847.1,754 1848.3,777 1849.6,752 1850.8,752 1852,748 1853.2,770 1854.5,747 1855.7,742 1856.9,746 1858.2,762 1859.4,739 1860.6,751 1861.9,725 1863.1,749 1864.3,719 1865.6,744 1866.8,721 1868,749 1869.3,727 1870.5,745 1871.7,732 1873,752 1874.2,731 1875.4,755 1876.7,736 1877.9,755 1879.1,733 1880.4,750 1881.6,727 1882.8,739 1884.1,714 1885.3,721 1886.5,685 1887.8,680 1889,640 1890.2,636 1891.5,613 1892.7,641 1893.9,638 1895.2,645 1896.4,655 1897.6,680 1898.9,668 1900.1,697 1901.3,696 1902.6,733 1903.8,726 1905,750 1906.3,738 1907.5,761 1908.7,749 1909.9,769 1911.2,755 1912.4,771 1913.6,753 1914.9,761 1916.1,783 1917.3,757 1918.6,762 1919.8,783 1921,764 1922.3,780 1923.5,779 1924.7,779 1926,759 1927.2,778 1928.4,759 1929.7,778 1930.9,781 1932.1,778 1933.4,761 1934.6,782 1935.8,756 1937.1,772 1938.3,756 1939.5,769 1940.8,747 1942,760 1943.2,735 1944.5,751 1945.7,715 1946.9,721 1948.2,688 1949.4,683 1950.6,638 1951.9,637 1953.1,621 1954.3,632 1955.6,642 1956.8,674 1958,676 1959.3,687 1960.5,675 1961.7,707 1963,723 1964.2,738 1965.4,734 1966.6,739 1967.9,750 1969.1,770 1970.3,759 1971.6,783 1972.8,763 1974,768 1975.3,785 1976.5,787 1977.7,786 1979,795 1980.2,769 1981.4,789 1982.7,775 1983.9,777 1985.1,778 1986.4,793 1987.6,780 1988.8,797 1990.1,794 1991.3,797 1992.5,776 1993.8,779 1995,781 1996.2,782 1997.5,779 1998.7,799 1999.9,778 2001.2,796 2002.4,783 2003.6,802 2004.9,780 2006.1,797 2007.3,780 2008.6,784 2009.8,782 2011,800 2012.3,781 2013.5,786 2014.7,780 2016,806 2017.2,779 2018.4,783 2019.7,787 2020.9,781 2022.1,786 2023.3,806 2024.6,805 2025.8,802 2027,808 2028.3,806 2029.5,803 2030.7,804 2032,791 2033.2,805 2034.4,784 2035.7,805 2036.9,790 2038.1,809 2039.4,792 2040.6,805 2041.8,788 2043.1,805 2044.3,790 2045.5,811 2046.8,791 2048,793" stroke="#ff0000"/>
<polyline points="171,976 172.2,946 173.3,981 174.5,951 175.6,975 176.8,951 177.9,970 179.1,941 180.2,949 181.4,947 182.5,969 183.7,947 184.8,968 186,946 187.1,978 188.3,944 189.4,973 190.6,945 191.7,968 192.9,941 194,969 195.2,947 196.3,970 197.5,937 198.6,972 199.8,942 200.9,947 202.1,939 203.2,967 204.4,942 205.5,968 206.7,939 207.8,964 209,945 210.1,965 211.3,964 212.4,969 213.6,944 214.7,963 215.9,941 217,963 218.2,936 219.3,964 220.5,942 221.6,966 222.8,932 223.9,962 225.1,942 226.2,963 227.4,935 228.6,971 229.7,941 230.9,960 232,961 233.2,961 234.3,934 235.5,965 236.6,934 237.8,961 238.9,938 240.1,969 241.2,939 242.4,958 243.5,939 244.7,965 245.8,960 247,933 248.1,933 249.3,930 250.4,934 251.6,957 252.7,956 253.9,958 255,936 256.2,965 257.3,962 258.5,956 259.6,958 260.8,957 261.9,931 263.1,965 264.2,934 265.4,958 266.5,932 267.7,964 268.8,934 270,958 271.1,934 272.3,956 273.4,923 274.6,959 275.7,934 276.9,964 278,930 279.2,956 280.3,923 281.5,956 282.6,932 283.8,931 284.9,926 286.1,931 287.3,932 288.4,930 289.6,932 290.7,950 291.9,950 293,952 294.2,928 295.3,929 296.5,922 297.6,951 298.8,919 299.9,946 301.1,922 302.2,946 303.4,922 304.5,946 305.7,920 306.8,946 308,913 309.1,946 310.3,921 311.4,948 312.6,921 313.7,947 314.9,917 316,920 317.2,913 318.3,939 319.5,919 320.6,939 321.8,916 322.9,942 324.1,917 325.2,941 326.4,906 327.5,948 328.7,911 329.8,937 331,938 332.1,943 333.3,907 334.4,946 335.6,914 336.7,936 337.9,914 339,908 340.2,904 341.3,938 342.5,912 343.6,939 344.8,912 346,937 347.1,914 348.3,933 349.4,912 350.6,934 351.7,913 352.9,943 354,907 355.2,934 356.3,901 357.5,932 358.6,911 359.8,940 360.9,901 362.1,938 363.2,911 364.4,934 365.5,911 366.7,930 367.8,901 369,929 370.1,929 371.3,929 372.4,903 373.6,933 374.7,908 375.9,906 377,897 378.2,906 379.3,906 380.5,930 381.6,905 382.8,928 383.9,903 385.1,904 386.2,898 387.4,929 388.5,901 389.7,921 390.8,890 392,921 393.1,899 394.3,921 395.4,898 396.6,919 397.7,888 398.9,918 400,890 401.2,921 402.4,897 403.5,897 404.7,922 405.8,920 407,896 408.1,917 409.3,885 410.4,889 411.6,890 412.7,925 413.9,894 415,915 416.2,886 417.3,916 418.5,891 419.6,921 420.8,881 421.9,921 423.1,919 424.2,914 425.4,885 426.5,911 427.7,889 428.8,910 430,884 431.1,920 432.3,882 433.4,909 434.6,883 435.7,886 436.9,915 438,909 439.2,886 440.3,907 441.5,886 442.6,907 443.8,883 444.9,907 446.1,879 447.2,914 448.4,875 449.5,879 450.7,881 451.8,882 453,878 454.1,901 455.3,881 456.4,906 457.6,880 458.8,908 459.9,874 461.1,902 462.2,867 463.4,898 464.5,876 465.7,899 466.8,907 468,895 469.1,870 470.3,864 471.4,873 472.6,899 473.7,866 474.9,893 476,867 477.2,901 478.3,867 479.5,892 480.6,893 481.8,888 482.9,859 484.1,867 485.2,855 486.4,898 487.5,857 488.7,895 489.8,860 491,885 492.1,859 493.3,888 494.4,862 495.6,889 496.7,882 497.9,884 499,859 500.2,880 501.3,849 502.5,885 503.6,857 504.8,849 505.9,845 507.1,881 508.2,848 509.4,874 510.5,846 511.7,874 512.8,840 514,876 515.1,848 516.3,878 517.5,840 518.6,867 519.8,845 520.9,865 522.1,837 523.2,864 524.4,841 525.5,869 526.7,839 527.8,861 529,859 530.1,858 531.3,832 532.4,856 533.6,823 534.7,854 535.9,855 537,853 538.2,820 539.3,858 540.5,829 541.6,849 542.8,827 543.9,820 545.1,819 546.2,852 547.4,822 548.5,848 549.7,819 550.8,844 552,815 553.1,851 554.3,816 555.4,843 556.6,820 557.7,853 558.9,851 560,846 561.2,808 562.3,839 563.5,804 564.6,840 565.8,809 566.9,838 568.1,809 569.2,831 570.4,798 571.5,803 572.7,802 573.8,830 575,793 576.2,826 577.3,798 578.5,801 579.6,803 580.8,824 581.9,798 583.1,824 584.2,798 585.4,800 586.5,800 587.7,791 588.8,801 590,826 591.1,798 592.3,822 593.4,798 594.6,831 595.7,799 596.9,826 598,821 599.2,823 600.3,794 601.5,819 602.6,789 603.8,820 604.9,795 606.1,816 607.2,780 608.4,824 609.5,786 610.7,810 611.8,779 613,805 614.1,772 615.3,802 616.4,778 617.6,800 618.7,773 619.9,796 621,772 622.2,807 623.3,764 624.5,794 625.6,761 626.8,796 627.9,758 629.1,794 630.2,769 631.4,798 632.6,767 633.7,793 634.9,766 636,763 637.2,767 638.3,799 639.5,760 640.6,796 641.8,760 642.9,788 644.1,758 645.2,787 646.4,764 647.5,789 648.7,785 649.8,784 651,757 652.1,796 653.3,782 654.4,784 655.6,759 656.7,785 657.9,754 659,783 660.2,757 661.3,785 662.5,752 663.6,751 664.8,749 665.9,743 667.1,751 668.2,786 669.4,774 670.5,775 671.7,748 672.8,771 674,734 675.1,779 676.3,739 677.4,764 678.6,738 679.7,772 680.9,734 682,758 683.2,724 684.3,759 685.5,757 686.6,765 687.8,723 688.9,753 690.1,717 691.3,755 692.4,728 693.6,762 694.7,725 695.9,756 697,718 698.2,749 699.3,712 700.5,751 701.6,724 702.8,750 703.9,723 705.1,758 706.2,715 707.4,746 708.5,712 709.7,751 710.8,712 712,742 713.1,718 714.3,750 715.4,706 716.6,740 717.7,713 718.9,739 720,711 721.2,699 722.3,706 723.5,739 724.6,703 725.8,730 726.9,706 728.1,728 729.2,700 730.4,731 731.5,738 732.7,735 733.8,693 735,726 736.1,699 737.3,730 738.4,699 739.6,732 740.7,693 741.9,724 743,691 744.2,724 745.3,699 746.5,737 747.7,730 748.8,690 750,688 751.1,725 752.3,732 753.4,699 754.6,700 755.7,724 756.9,700 758,729 759.2,695 760.3,734 761.5,699 762.6,732 763.8,700 764.9,725 766.1,695 767.2,699 768.4,739 769.5,726 770.7,701 771.8,736 773,736 774.1,726 775.3,702 776.4,730 777.6,704 778.7,729 779.9,736 781,736 782.2,704 783.3,729 784.5,703 785.6,734 786.8,704 787.9,741 789.1,704 790.2,731 791.4,698 792.5,740 793.7,699 794.8,694 796,700 797.1,728 798.3,729 799.4,732 800.6,699 801.7,735 802.9,699 804,728 805.2,698 806.4,729 807.5,702 808.7,726 809.8,696 811,731 812.1,698 813.3,732 814.4,697 815.6,726 816.7,700 817.9,733 819,689 820.2,732 821.3,725 822.5,732 823.6,698 824.8,737 825.9,702 827.1,734 828.2,700 829.4,736 830.5,698 831.7,727 832.8,734 834,731 835.1,729 836.3,728 837.4,703 838.6,734 839.7,704 840.9,730 842,708 843.2,739 844.3,706 845.5,742 846.6,710 847.8,737 848.9,705 850.1,738 851.2,716 852.4,741 853.5,713 854.7,739 855.8,703 857,739 858.1,715 859.3,744 860.4,714 861.6,738 862.8,712 863.9,737 865.1,707 866.2,736 867.4,707 868.5,736 869.7,709 870.8,750 872,706 873.1,750 874.3,712 875.4,739 876.6,715 877.7,749 878.9,741 880,748 881.2,718 882.3,754 883.5,718 884.6,745 885.8,720 886.9,747 888.1,708 889.2,747 890.4,713 891.5,747 892.7,721 893.8,748 895,716 896.1,748 897.3,745 898.4,720 899.6,745 900.7,743 901.9,720 903,720 904.2,717 905.3,755 906.5,714 907.6,717 908.8,714 909.9,718 911.1,721 912.2,750 913.4,714 914.5,750 915.7,711 916.8,713 918,755 919.1,747 920.3,711 921.5,754 922.6,722 923.8,756 924.9,729 926.1,755 927.2,721 928.4,761 929.5,722 930.7,758 931.8,732 933,764 934.1,738 935.3,766 936.4,737 937.6,764 938.7,740 939.9,768 941,735 942.2,775 943.3,774 944.5,730 945.6,731 946.8,773 947.9,743 949.1,771 950.2,767 951.4,740 952.5,768 953.7,741 954.8,737 956,767 957.1,734 958.3,767 959.4,742 960.6,768 961.7,767 962.9,770 964,744 965.2,768 966.3,737 967.5,771 968.6,736 969.8,744 970.9,748 972.1,773 973.2,742 974.4,775 975.5,745 976.7,780 977.9,780 979,778 980.2,755 981.3,780 982.5,751 983.6,788 984.8,760 985.9,786 987.1,761 988.2,791 989.4,762 990.5,786 991.7,763 992.8,800 994,757 995.1,791 996.3,798 997.4,792 998.6,791 999.7,802 1000.9,770 1002,801 1003.2,806 1004.3,794 1005.5,763 1006.6,804 1007.8,774 1008.9,800 1010.1,775 1011.2,800 1012.4,775 1013.5,802 1014.7,778 1015.8,802 1017,779 1018.1,807 1019.3,809 1020.4,810 1021.6,809 1022.7,815 1023.9,779 1025,807 1026.2,784 1027.3,813 1028.5,781 1029.6,808 1030.8,783 1031.9,820 1033.1,783 1034.2,811 1035.4,780 1036.6,813 1037.7,790 1038.9,812 1040,779 1041.2,813 1042.3,784 1043.5,814 1044.6,791 1045.8,816 1046.9,792 1048.1,816 1049.2,792 1050.4,824 1051.5,820 1052.7,817 1053.8,787 1055,827 1056.1,794 1057.3,820 1058.4,818 1059.6,819 1060.7,796 1061.9,798 1063,832 1064.2,825 1065.3,797 1066.5,825 1067.6,799 1068.8,832 1069.9,824 1071.1,828 1072.2,800 1073.4,825 1074.5,794 1075.7,799 1076.8,801 1078,825 1079.1,793 1080.3,825 1081.4,835 1082.6,797 1083.7,791 1084.9,823 1086,796 1087.2,826 1088.3,800 1089.5,833 1090.6,801 1091.8,826" stroke="#0000ff"/>
<polyline points="1123.5,889 1124.8,867 1126,889 1127.2,861 1128.5,871 1129.7,890 1130.9,890 1132.2,871 1133.4,889 1134.6,870 1135.9,890 1137.1,872 1138.3,898 1139.6,871 1140.8,873 1142,869 1143.3,893 1144.5,896 1145.7,892 1147,892 1148.2,896 1149.4,873 1150.7,901 1151.9,875 1153.1,894 1154.4,876 1155.6,895 1156.8,876 1158.1,897 1159.3,875 1160.5,903 1161.8,876 1163,866 1164.2,874 1165.5,894 1166.7,900 1167.9,896 1169.2,862 1170.4,867 1171.6,887 1172.9,862 1174.1,860 1175.3,879 1176.6,857 1177.8,878 1179,837 1180.2,854 1181.5,812 1182.7,822 1183.9,787 1185.2,812 1186.4,803 1187.6,827 1188.9,812 1190.1,846 1191.3,825 1192.6,862 1193.8,849 1195,883 1196.3,861 1197.5,886 1198.7,868 1200,891 1201.2,892 1202.4,900 1203.7,895 1204.9,897 1206.1,907 1207.4,900 1208.6,880 1209.8,906 1211.1,902 1212.3,910 1213.5,903 1214.8,903 1216,903 1217.2,878 1218.5,886 1219.7,879 1220.9,885 1222.2,913 1223.4,888 1224.6,912 1225.9,879 1227.1,911 1228.3,889 1229.6,916 1230.8,883 1232,907 1233.3,916 1234.5,907 1235.7,890 1236.9,891 1238.2,887 1239.4,909 1240.6,891 1241.9,910 1243.1,883 1244.3,908 1245.6,887 1246.8,908 1248,889 1249.3,909 1250.5,890 1251.7,908 1253,888 1254.2,910 1255.4,887 1256.7,909 1257.9,883 1259.1,910 1260.4,893 1261.6,914 1262.8,894 1264.1,912 1265.3,892 1266.5,918 1267.8,888 1269,914 1270.2,892 1271.5,913 1272.7,921 1273.9,918 1275.2,889 1276.4,915 1277.6,895 1278.9,892 1280.1,898 1281.3,922 1282.6,894 1283.8,922 1285,916 1286.3,922 1287.5,897 1288.7,917 1290,901 1291.2,925 1292.4,900 1293.6,919 1294.9,901 1296.1,924 1297.3,904 1298.6,921 1299.8,900 1301,929 1302.3,926 1303.5,931 1304.7,905 1306,923 1307.2,904 1308.4,923 1309.7,905 1310.9,928 1312.1,905 1313.4,923 1314.6,903 1315.8,932 1317.1,904 1318.3,926 1319.5,904 1320.8,928 1322,904 1323.2,905 1324.5,903 1325.7,904 1326.9,905 1328.2,904 1329.4,905 1330.6,927 1331.9,902 1333.1,926 1334.3,902 1335.6,923 1336.8,924 1338,924 1339.3,897 1340.5,923 1341.7,906 1343,923 1344.2,905 1345.4,926 1346.7,903 1347.9,928 1349.1,903 1350.3,923 1351.6,925 1352.8,925 1354,908 1355.3,928 1356.5,902 1357.7,925 1359,906 1360.2,925 1361.4,903 1362.7,929 1363.9,909 1365.1,928 1366.4,909 1367.6,926 1368.8,905 1370.1,927 1371.3,900 1372.5,933 1373.8,901 1375,926 1376.2,899 1377.5,907 1378.7,900 1379.9,923 1381.2,897 1382.4,919 1383.6,921 1384.9,916 1386.1,896 1387.3,912 1388.6,887 1389.8,900 1391,863 1392.3,845 1393.5,813 1394.7,783 1396,777 1397.2,816 1398.4,809 1399.7,846 1400.9,814 1402.1,848 1403.4,845 1404.6,888 1405.8,881 1407,911 1408.3,895 1409.5,918 1410.7,899 1412,924 1413.2,906 1414.4,932 1415.7,910 1416.9,931 1418.1,912 1419.4,937 1420.6,905 1421.8,936 1423.1,908 1424.3,910 1425.5,913 1426.8,939 1428,910 1429.2,935 1430.5,941 1431.7,936 1432.9,919 1434.2,938 1435.4,918 1436.6,942 1437.9,915 1439.1,917 1440.3,924 1441.6,941 1442.8,925 1444,946 1445.3,925 1446.5,917 1447.7,927 1449,952 1450.2,923 1451.4,950 1452.7,926 1453.9,954 1455.1,930 1456.4,955 1457.6,925 1458.8,952 1460,929 1461.3,950 1462.5,932 1463.7,932 1465,934 1466.2,951 1467.4,927 1468.7,929 1469.9,934 1471.1,954 1472.4,932 1473.6,960 1474.8,933 1476.1,956 1477.3,957 1478.5,951 1479.8,932 1481,927 1482.2,929 1483.5,959 1484.7,935 1485.9,957 1487.2,935 1488.4,959 1489.6,930 1490.9,934 1492.1,933 1493.3,953 1494.6,927 1495.8,954 1497,936 1498.3,954 1499.5,952 1500.7,952 1502,934 1503.2,954 1504.4,937 1505.7,936 1506.9,953 1508.1,954 1509.4,936 1510.6,953 1511.8,954 1513.1,954 1514.3,934 1515.5,963 1516.7,934 1518,956 1519.2,934 1520.4,963 1521.7,935 1522.9,962 1524.1,942 1525.4,960 1526.6,941 1527.8,959 1529.1,940 1530.3,959 1531.5,934 1532.8,938 1534,936 1535.2,942 1536.5,937 1537.7,963 1538.9,958 1540.2,957 1541.4,938 1542.6,959 1543.9,938 1545.1,957 1546.3,936 1547.6,963 1548.8,940 1550,934 1551.3,941 1552.5,962 1553.7,941 1555,940 1556.2,941 1557.4,958 1558.7,943 1559.9,968 1561.1,942 1562.4,935 1563.6,941 1564.8,936 1566.1,961 1567.3,968 1568.5,961 1569.8,959 1571,943 1572.2,959 1573.4,943 1574.7,939 1575.9,942 1577.1,965 1578.4,942 1579.6,966 1580.8,942 1582.1,959 1583.3,941 1584.5,958 1585.8,941 1587,964 1588.2,942 1589.5,958 1590.7,942 1591.9,936 1593.2,941 1594.4,959 1595.6,934 1596.9,957 1598.1,940 1599.3,956 1600.6,932 1601.8,955 1603,961 1604.3,954 1605.5,938 1606.7,958 1608,932 1609.2,952 1610.4,930 1611.7,948 1612.9,924 1614.1,947 1615.4,949 1616.6,939 1617.8,912 1619.1,928 1620.3,912 1621.5,890 1622.8,843 1624,826 1625.2,793 1626.5,789 1627.7,781 1628.9,831 1630.1,821 1631.4,840 1632.6,829 1633.8,861 1635.1,870 1636.3,907 1637.5,905 1638.8,936 1640,919 1641.2,950 1642.5,929 1643.7,959 1644.9,934 1646.2,958 1647.4,941 1648.6,960 1649.9,946 1651.1,969 1652.3,947 1653.6,971 1654.8,948 1656,965 1657.3,944 1658.5,971 1659.7,976 1661,970 1662.2,976 1663.4,971 1664.7,953 1665.9,971 1667.1,951 1668.4,949 1669.6,950 1670.8,980 1672.1,975 1673.3,975 1674.5,956 1675.8,982 1677,959 1678.2,975 1679.5,959 1680.7,979 1681.9,982 1683.2,984 1684.4,956 1685.6,982 1686.8,981 1688.1,981 1689.3,957 1690.5,952 1691.8,953 1693,975 1694.2,960 1695.5,951 1696.7,956 1697.9,976 1699.2,984 1700.4,977 1701.6,960 1702.9,979 1704.1,963 1705.3,980 1706.6,980 1707.8,982 1709,966 1710.3,963 1711.5,965 1712.7,986 1714,958 1715.2,988 1716.4,961 1717.7,986 1718.9,965 1720.1,989 1721.4,962 1722.6,982 1723.8,961 1725.1,980 1726.3,962 1727.5,964 1728.8,956 1730,981 1731.2,979 1732.5,988 1733.7,961 1734.9,984 1736.2,959 1737.4,984 1738.6,963 1739.9,981 1741.1,965 1742.3,984 1743.5,965 1744.8,982 1746,958 1747.2,988 1748.5,960 1749.7,981 1750.9,958 1752.2,981 1753.4,959 1754.6,987 1755.9,958 1757.1,991 1758.3,965 1759.6,983 1760.8,960 1762,983 1763.3,984 1764.5,986 1765.7,968 1767,967 1768.2,969 1769.4,986 1770.7,962 1771.9,992 1773.1,961 1774.4,989 1775.6,990 1776.8,987 1778.1,963 1779.3,971 1780.5,971 1781.8,986 1783,970 1784.2,987 1785.5,991 1786.7,987 1787.9,968 1789.2,990 1790.4,992 1791.6,992 1792.9,967 1794.1,971 1795.3,970 1796.5,988 1797.8,970 1799,987 1800.2,964 1801.5,965 1802.7,972 1803.9,987 1805.2,971 1806.4,990 1807.6,970 1808.9,988 1810.1,969 1811.3,971 1812.6,971 1813.8,987 1815,990 1816.3,987 1817.5,965 1818.7,970 1820,971 1821.2,990 1822.4,965 1823.7,987 1824.9,970 1826.1,995 1827.4,993 1828.6,970 1829.8,971 1831.1,993 1832.3,972 1833.5,987 1834.8,970 1836,990 1837.2,970 1838.5,993 1839.7,966 1840.9,972 1842.2,989 1843.4,994 1844.6,972 1845.9,994 1847.1,992 1848.3,966 1849.6,968 1850.8,986 1852,966 1853.2,987 1854.5,969 1855.7,983 1856.9,966 1858.2,980 1859.4,963 1860.6,982 1861.9,981 1863.1,979 1864.3,948 1865.6,962 1866.8,935 1868,938 1869.3,908 1870.5,932 1871.7,917 1873,943 1874.2,942 1875.4,932 1876.7,902 1877.9,912 1879.1,915 1880.4,922 1881.6,901 1882.8,908 1884.1,903 1885.3,909 1886.5,879 1887.8,886 1889,841 1890.2,842 1891.5,789 1892.7,769 1893.9,769 1895.2,809 1896.4,824 1897.6,842 1898.9,826 1900.1,857 1901.3,850 1902.6,889 1903.8,895 1905,930 1906.3,923 1907.5,955 1908.7,944 1909.9,974 1911.2,951 1912.4,959 1913.6,955 1914.9,961 1916.1,966 1917.3,983 1918.6,988 1919.8,987 1921,968 1922.3,987 1923.5,968 1924.7,967 1926,972 1927.2,973 1928.4,965 1929.7,996 1930.9,973 1932.1,990 1933.4,971 1934.6,987 1935.8,969 1937.1,988 1938.3,984 1939.5,982 1940.8,958 1942,979 1943.2,956 1944.5,965 1945.7,942 1946.9,954 1948.2,938 1949.4,914 1950.6,871 1951.9,860 1953.1,811 1954.3,797 1955.6,808 1956.8,840 1958,839 1959.3,850 1960.5,852 1961.7,879 1963,878 1964.2,897 1965.4,913 1966.6,951 1967.9,946 1969.1,972 1970.3,980 1971.6,986 1972.8,991 1974,972 1975.3,979 1976.5,1003 1977.7,983 1979,1000 1980.2,984 1981.4,1004 1982.7,987 1983.9,1007 1985.1,991 1986.4,1010 1987.6,990 1988.8,1010 1990.1,992 1991.3,1011 1992.5,992 1993.8,1012 1995,998 1996.2,1012 1997.5,996 1998.7,1014 1999.9,997 2001.2,1015 2002.4,999 2003.6,1021 2004.9,1022 2006.1,1015 2007.3,1023 2008.6,1017 2009.8,997 2011,1023 2012.3,1001 2013.5,1017 2014.7,995 2016,1018 2017.2,995 2018.4,1022 2019.7,994 2020.9,1020 2022.1,1002 2023.3,1023 2024.6,1002 2025.8,1002 2027,1001 2028.3,1017 2029.5,1017 2030.7,1020 2032,996 2033.2,1017 2034.4,1002 2035.7,1020 2036.9,1002 2038.1,1019 2039.4,996 2040.6,1017 2041.8,1019 2043.1,1017 2044.3,1022 2045.5,1003 2046.8,997 2048,1018" stroke="#0000ff"/>
<polyline points="171,1235 172.2,1205 173.3,1228 174.5,1229 175.6,1236 176.8,1208 177.9,1233 179.1,1207 180.2,1233 181.4,1207 182.5,1202 183.7,1198 184.8,1226 186,1196 187.1,1225 188.3,1206 189.4,1233 190.6,1228 191.7,1206 192.9,1200 194,1202 195.2,1193 196.3,1234 197.5,1195 198.6,1226 199.8,1196 200.9,1228 202.1,1202 203.2,1228 204.4,1201 205.5,1223 206.7,1201 207.8,1220 209,1198 210.1,1227 211.3,1193 212.4,1219 213.6,1196 214.7,1219 215.9,1198 217,1219 218.2,1192 219.3,1226 220.5,1197 221.6,1216 222.8,1189 223.9,1217 225.1,1193 226.2,1221 227.4,1194 228.6,1223 229.7,1192 230.9,1185 232,1184 233.2,1219 234.3,1187 235.5,1215 236.6,1191 237.8,1188 238.9,1185 240.1,1189 241.2,1184 242.4,1211 243.5,1183 244.7,1215 245.8,1186 247,1211 248.1,1186 249.3,1213 250.4,1213 251.6,1210 252.7,1209 253.9,1207 255,1182 256.2,1210 257.3,1202 258.5,1206 259.6,1182 260.8,1207 261.9,1178 263.1,1176 264.2,1180 265.4,1178 266.5,1174 267.7,1201 268.8,1172 270,1197 271.1,1176 272.3,1197 273.4,1170 274.6,1197 275.7,1202 276.9,1202 278,1175 279.2,1170 280.3,1166 281.5,1203 282.6,1173 283.8,1192 284.9,1170 286.1,1198 287.3,1171 288.4,1202 289.6,1164 290.7,1190 291.9,1163 293,1167 294.2,1168 295.3,1193 296.5,1162 297.6,1192 298.8,1188 299.9,1187 301.1,1166 302.2,1186 303.4,1164 304.5,1186 305.7,1164 306.8,1192 308,1163 309.1,1183 310.3,1162 311.4,1184 312.6,1157 313.7,1181 314.9,1180 316,1180 317.2,1157 318.3,1191 319.5,1151 320.6,1149 321.8,1147 322.9,1156 324.1,1152 325.2,1154 326.4,1154 327.5,1182 328.7,1151 329.8,1179 331,1153 332.1,1185 333.3,1148 334.4,1178 335.6,1146 336.7,1183 337.9,1152 339,1173 340.2,1183 341.3,1176 342.5,1141 343.6,1171 344.8,1138 346,1171 347.1,1141 348.3,1179 349.4,1171 350.6,1145 351.7,1144 352.9,1146 354,1146 355.2,1177 356.3,1140 357.5,1165 358.6,1140 359.8,1165 360.9,1135 362.1,1165 363.2,1142 364.4,1168 365.5,1129 366.7,1168 367.8,1128 369,1160 370.1,1138 371.3,1130 372.4,1135 373.6,1157 374.7,1135 375.9,1157 377,1129 378.2,1162 379.3,1127 380.5,1159 381.6,1125 382.8,1121 383.9,1130 385.1,1151 386.2,1117 387.4,1159 388.5,1122 389.7,1155 390.8,1152 392,1147 393.1,1149 394.3,1145 395.4,1123 396.6,1144 397.7,1113 398.9,1142 400,1120 401.2,1141 402.4,1111 403.5,1148 404.7,1116 405.8,1149 407,1140 408.1,1110 409.3,1109 410.4,1112 411.6,1105 412.7,1145 413.9,1111 415,1135 416.2,1102 417.3,1140 418.5,1110 419.6,1111 420.8,1109 421.9,1135 423.1,1102 424.2,1138 425.4,1106 426.5,1141 427.7,1104 428.8,1139 430,1107 431.1,1107 432.3,1097 433.4,1134 434.6,1104 435.7,1126 436.9,1104 438,1102 439.2,1092 440.3,1123 441.5,1100 442.6,1131 443.8,1099 444.9,1121 446.1,1091 447.2,1088 448.4,1086 449.5,1118 450.7,1094 451.8,1122 453,1093 454.1,1123 455.3,1093 456.4,1119 457.6,1092 458.8,1091 459.9,1121 461.1,1117 462.2,1086 463.4,1113 464.5,1083 465.7,1121 466.8,1111 468,1108 469.1,1085 470.3,1115 471.4,1084 472.6,1114 473.7,1083 474.9,1079 476,1081 477.2,1079 478.3,1080 479.5,1108 480.6,1073 481.8,1108 482.9,1077 484.1,1101 485.2,1069 486.4,1100 487.5,1076 488.7,1107 489.8,1063 491,1104 492.1,1097 493.3,1108 494.4,1095 495.6,1094 496.7,1100 497.9,1103 499,1097 500.2,1101 501.3,1062 502.5,1066 503.6,1060 504.8,1095 505.9,1060 507.1,1092 508.2,1087 509.4,1061 510.5,1050 511.7,1082 512.8,1058 514,1080 515.1,1081 516.3,1080 517.5,1054 518.6,1077 519.8,1050 520.9,1075 522.1,1048 523.2,1073 524.4,1050 525.5,1049 526.7,1038 527.8,1079 529,1083 530.1,1077 531.3,1071 532.4,1069 533.6,1039 534.7,1071 535.9,1078 537,1065 538.2,1029 539.3,1075 540.5,1026 541.6,1066 542.8,1032 543.9,1073 545.1,1033 546.2,1066 547.4,1034 548.5,1056 549.7,1028 550.8,1023 552,1029 553.1,1060 554.3,1022 555.4,1049 556.6,1024 557.7,1049 558.9,1013 560,1058 561.2,1012 562.3,1044 563.5,1007 564.6,1041 565.8,1015 566.9,1046 568.1,1014 569.2,1039 570.4,1011 571.5,1048 572.7,1009 573.8,1035 575,1009 576.2,1005 577.3,1005 578.5,1046 579.6,1005 580.8,1040 581.9,999 583.1,1004 584.2,1004 585.4,1032 586.5,1005 587.7,1028 588.8,1003 590,1027 591.1,1002 592.3,999 593.4,1000 594.6,1037 595.7,996 596.9,1021 598,990 599.2,1027 600.3,982 601.5,993 602.6,992 603.8,1024 604.9,986 606.1,1020 607.2,977 608.4,1027 609.5,988 610.7,1013 611.8,973 613,1009 614.1,983 615.3,1016 616.4,983 617.6,1011 618.7,968 619.9,1009 621,979 622.2,1003 623.3,976 624.5,978 625.6,971 626.8,1002 627.9,974 629.1,1009 630.2,967 631.4,965 632.6,973 633.7,971 634.9,966 636,1000 637.2,961 638.3,967 639.5,956 640.6,966 641.8,997 642.9,999 644.1,949 645.2,989 646.4,950 647.5,990 648.7,953 649.8,957 651,945 652.1,981 653.3,995 654.4,984 655.6,949 656.7,953 657.9,984 659,977 660.2,941 661.3,942 662.5,950 663.6,984 664.8,943 665.9,975 667.1,941 668.2,980 669.4,943 670.5,979 671.7,936 672.8,982 674,934 675.1,969 676.3,932 677.4,982 678.6,939 679.7,979 680.9,967 682,965 683.2,937 684.3,964 685.5,938 686.6,965 687.8,921 688.9,964 690.1,918 691.3,961 692.4,928 693.6,955 694.7,929 695.9,965 697,919 698.2,956 699.3,912 700.5,955 701.6,921 702.8,959 703.9,913 705.1,921 706.2,909 707.4,947 708.5,908 709.7,955 710.8,905 712,943 713.1,908 714.3,943 715.4,904 716.6,941 717.7,952 718.9,954 720,909 721.2,943 722.3,906 723.5,950 724.6,911 725.8,947 726.9,908 728.1,906 729.2,946 730.4,934 731.5,907 732.7,940 733.8,899 735,934 736.1,899 737.3,935 738.4,907 739.6,934 740.7,907 741.9,936 743,904 744.2,935 745.3,894 746.5,935 747.7,906 748.8,947 750,938 751.1,946 752.3,902 753.4,936 754.6,902 755.7,888 756.9,901 758,942 759.2,900 760.3,936 761.5,894 762.6,936 763.8,926 764.9,942 766.1,896 767.2,927 768.4,894 769.5,928 770.7,896 771.8,937 773,903 774.1,930 775.3,904 776.4,938 777.6,941 778.7,946 779.9,934 781,933 782.2,901 783.3,897 784.5,900 785.6,938 786.8,908 787.9,943 789.1,947 790.2,936 791.4,902 792.5,945 793.7,895 794.8,939 796,908 797.1,936 798.3,909 799.4,943 800.6,906 801.7,894 802.9,904 804,941 805.2,902 806.4,938 807.5,899 808.7,901 809.8,900 811,899 812.1,899 813.3,937 814.4,885 815.6,888 816.7,898 817.9,886 819,934 820.2,935 821.3,891 822.5,924 823.6,925 824.8,926 825.9,898 827.1,926 828.2,886 829.4,930 830.5,897 831.7,930 832.8,893 834,940 835.1,906 836.3,933 837.4,899 838.6,934 839.7,908 840.9,935 842,909 843.2,945 844.3,901 845.5,942 846.6,910 847.8,947 848.9,906 850.1,912 851.2,912 852.4,946 853.5,908 854.7,942 855.8,944 857,940 858.1,909 859.3,940 860.4,955 861.6,951 862.8,911 863.9,955 865.1,908 866.2,946 867.4,909 868.5,908 869.7,900 870.8,951 872,915 873.1,942 874.3,903 875.4,951 876.6,912 877.7,947 878.9,904 880,944 881.2,944 882.3,917 883.5,960 884.6,952 885.8,913 886.9,946 888.1,918 889.2,944 890.4,944 891.5,943 892.7,913 893.8,944 895,901 896.1,955 897.3,911 898.4,942 899.6,914 900.7,916 901.9,909 903,944 904.2,903 905.3,944 906.5,905 907.6,915 908.8,911 909.9,945 911.1,908 912.2,945 913.4,945 914.5,919 915.7,947 916.8,912 918,917 919.1,911 920.3,917 921.5,953 922.6,920 923.8,951 924.9,921 926.1,953 927.2,928 928.4,954 929.5,929 930.7,962 931.8,930 933,931 934.1,930 935.3,973 936.4,934 937.6,962 938.7,935 939.9,964 941,937 942.2,975 943.3,980 944.5,968 945.6,930 946.8,968 947.9,940 949.1,979 950.2,944 951.4,985 952.5,943 953.7,975 954.8,933 956,935 957.1,974 958.3,946 959.4,941 960.6,978 961.7,937 962.9,976 964,937 965.2,982 966.3,946 967.5,984 968.6,952 969.8,981 970.9,953 972.1,988 973.2,952 974.4,979 975.5,943 976.7,981 977.9,941 979,983 980.2,950 981.3,991 982.5,954 983.6,945 984.8,949 985.9,997 987.1,990 988.2,987 989.4,962 990.5,988 991.7,960 992.8,1003 994,962 995.1,994 996.3,968 997.4,995 998.6,969 999.7,997 1000.9,967 1002,1008 1003.2,969 1004.3,1008 1005.5,973 1006.6,971 1007.8,966 1008.9,1002 1010.1,975 1011.2,1002 1012.4,1005 1013.5,1015 1014.7,977 1015.8,1003 1017,971 1018.1,1010 1019.3,980 1020.4,1009 1021.6,982 1022.7,1015 1023.9,974 1025,1011 1026.2,974 1027.3,1014 1028.5,985 1029.6,1014 1030.8,989 1031.9,1015 1033.1,990 1034.2,1018 1035.4,1019 1036.6,1027 1037.7,991 1038.9,1026 1040,1019 1041.2,991 1042.3,1019 1043.5,1031 1044.6,994 1045.8,1026 1046.9,992 1048.1,994 1049.2,997 1050.4,1031 1051.5,995 1052.7,1022 1053.8,998 1055,1026 1056.1,995 1057.3,1024 1058.4,999 1059.6,1034 1060.7,994 1061.9,1025 1063,992 1064.2,1025 1065.3,991 1066.5,992 1067.6,1002 1068.8,1040 1069.9,991 1071.1,1027 1072.2,997 1073.4,1000 1074.5,1004 1075.7,1028 1076.8,1028 1078,1034 1079.1,1000 1080.3,991 1081.4,1003 1082.6,1031 1083.7,1002 1084.9,1030 1086,999 1087.2,995 1088.3,997 1089.5,1028 1090.6,1003 1091.8,1033" stroke="#ff00ff"/>
<polyline points="1123.5,1158 1124.8,1136 1126,1154 1127.2,1131 1128.5,1131 1129.7,1129 1130.9,1153 1132.2,1135 1133.4,1153 1134.6,1133 1135.9,1127 1137.1,1134 1138.3,1152 1139.6,1133 1140.8,1157 1142,1155 1143.3,1126 1144.5,1131 1145.7,1152 1147,1124 1148.2,1149 1149.4,1125 1150.7,1155 1151.9,1130 1153.1,1155 1154.4,1125 1155.6,1149 1156.8,1121 1158.1,1157 1159.3,1130 1160.5,1157 1161.8,1127 1163,1149 1164.2,1123 1165.5,1154 1166.7,1127 1167.9,1144 1169.2,1118 1170.4,1143 1171.6,1118 1172.9,1138 1174.1,1106 1175.3,1128 1176.6,1093 1177.8,1108 1179,1066 1180.2,1068 1181.5,1038 1182.7,1069 1183.9,1062 1185.2,1068 1186.4,1071 1187.6,1107 1188.9,1097 1190.1,1134 1191.3,1117 1192.6,1141 1193.8,1127 1195,1121 1196.3,1133 1197.5,1160 1198.7,1135 1200,1157 1201.2,1160 1202.4,1160 1203.7,1140 1204.9,1166 1206.1,1144 1207.4,1169 1208.6,1169 1209.8,1168 1211.1,1140 1212.3,1165 1213.5,1146 1214.8,1166 1216,1143 1217.2,1163 1218.5,1140 1219.7,1164 1220.9,1140 1222.2,1163 1223.4,1163 1224.6,1163 1225.9,1138 1227.1,1169 1228.3,1147 1229.6,1165 1230.8,1148 1232,1173 1233.3,1142 1234.5,1168 1235.7,1143 1236.9,1152 1238.2,1153 1239.4,1170 1240.6,1154 1241.9,1171 1243.1,1148 1244.3,1174 1245.6,1178 1246.8,1172 1248,1150 1249.3,1173 1250.5,1155 1251.7,1182 1253,1151 1254.2,1152 1255.4,1178 1256.7,1156 1257.9,1153 1259.1,1176 1260.4,1151 1261.6,1179 1262.8,1182 1264.1,1181 1265.3,1150 1266.5,1157 1267.8,1157 1269,1175 1270.2,1148 1271.5,1178 1272.7,1154 1273.9,1150 1275.2,1178 1276.4,1174 1277.6,1176 1278.9,1182 1280.1,1151 1281.3,1157 1282.6,1147 1283.8,1177 1285,1157 1286.3,1176 1287.5,1149 1288.7,1183 1290,1158 1291.2,1181 1292.4,1161 1293.6,1184 1294.9,1162 1296.1,1184 1297.3,1162 1298.6,1180 1299.8,1164 1301,1191 1302.3,1165 1303.5,1184 1304.7,1166 1306,1185 1307.2,1190 1308.4,1184 1309.7,1162 1310.9,1185 1312.1,1168 1313.4,1191 1314.6,1167 1315.8,1189 1317.1,1194 1318.3,1191 1319.5,1168 1320.8,1189 1322,1164 1323.2,1186 1324.5,1195 1325.7,1169 1326.9,1169 1328.2,1188 1329.4,1167 1330.6,1186 1331.9,1167 1333.1,1186 1334.3,1163 1335.6,1188 1336.8,1167 1338,1169 1339.3,1161 1340.5,1187 1341.7,1167 1343,1192 1344.2,1168 1345.4,1188 1346.7,1166 1347.9,1192 1349.1,1170 1350.3,1170 1351.6,1170 1352.8,1187 1354,1167 1355.3,1197 1356.5,1170 1357.7,1195 1359,1169 1360.2,1195 1361.4,1170 1362.7,1169 1363.9,1163 1365.1,1194 1366.4,1163 1367.6,1190 1368.8,1168 1370.1,1194 1371.3,1165 1372.5,1191 1373.8,1166 1375,1192 1376.2,1162 1377.5,1187 1378.7,1164 1379.9,1181 1381.2,1162 1382.4,1178 1383.6,1154 1384.9,1171 1386.1,1150 1387.3,1161 1388.6,1127 1389.8,1134 1391,1086 1392.3,1076 1393.5,1046 1394.7,1043 1396,1048 1397.2,1089 1398.4,1091 1399.7,1096 1400.9,1080 1402.1,1130 1403.4,1126 1404.6,1157 1405.8,1149 1407,1153 1408.3,1156 1409.5,1186 1410.7,1155 1412,1188 1413.2,1165 1414.4,1186 1415.7,1167 1416.9,1188 1418.1,1165 1419.4,1190 1420.6,1172 1421.8,1191 1423.1,1175 1424.3,1198 1425.5,1177 1426.8,1195 1428,1194 1429.2,1203 1430.5,1172 1431.7,1179 1432.9,1205 1434.2,1198 1435.4,1182 1436.6,1202 1437.9,1183 1439.1,1208 1440.3,1176 1441.6,1202 1442.8,1184 1444,1204 1445.3,1178 1446.5,1213 1447.7,1204 1449,1214 1450.2,1185 1451.4,1188 1452.7,1188 1453.9,1213 1455.1,1206 1456.4,1208 1457.6,1191 1458.8,1208 1460,1185 1461.3,1213 1462.5,1191 1463.7,1208 1465,1212 1466.2,1208 1467.4,1192 1468.7,1215 1469.9,1192 1471.1,1216 1472.4,1189 1473.6,1210 1474.8,1209 1476.1,1210 1477.3,1186 1478.5,1212 1479.8,1209 1481,1212 1482.2,1193 1483.5,1217 1484.7,1194 1485.9,1212 1487.2,1195 1488.4,1211 1489.6,1190 1490.9,1214 1492.1,1187 1493.3,1211 1494.6,1194 1495.8,1211 1497,1191 1498.3,1212 1499.5,1188 1500.7,1214 1502,1215 1503.2,1213 1504.4,1195 1505.7,1220 1506.9,1192 1508.1,1214 1509.4,1191 1510.6,1215 1511.8,1198 1513.1,1214 1514.3,1197 1515.5,1197 1516.7,1199 1518,1220 1519.2,1200 1520.4,1197 1521.7,1199 1522.9,1221 1524.1,1195 1525.4,1223 1526.6,1200 1527.8,1223 1529.1,1201 1530.3,1228 1531.5,1198 1532.8,1220 1534,1204 1535.2,1203 1536.5,1228 1537.7,1220 1538.9,1205 1540.2,1230 1541.4,1200 1542.6,1223 1543.9,1205 1545.1,1220 1546.3,1221 1547.6,1220 1548.8,1197 1550,1222 1551.3,1202 1552.5,1222 1553.7,1201 1555,1219 1556.2,1198 1557.4,1223 1558.7,1194 1559.9,1219 1561.1,1202 1562.4,1226 1563.6,1218 1564.8,1218 1566.1,1198 1567.3,1225 1568.5,1195 1569.8,1222 1571,1203 1572.2,1219 1573.4,1200 1574.7,1224 1575.9,1205 1577.1,1226 1578.4,1229 1579.6,1221 1580.8,1203 1582.1,1205 1583.3,1203 1584.5,1222 1585.8,1229 1587,1223 1588.2,1204 1589.5,1223 1590.7,1207 1591.9,1231 1593.2,1207 1594.4,1230 1595.6,1200 1596.9,1224 1598.1,1203 1599.3,1220 1600.6,1199 1601.8,1223 1603,1200 1604.3,1196 1605.5,1200 1606.7,1217 1608,1194 1609.2,1196 1610.4,1193 1611.7,1209 1612.9,1190 1614.1,1202 1615.4,1175 1616.6,1164 1617.8,1153 1619.1,1162 1620.3,1113 1621.5,1101 1622.8,1072 1624,1074 1625.2,1069 1626.5,1106 1627.7,1117 1628.9,1097 1630.1,1098 1631.4,1138 1632.6,1140 1633.8,1183 1635.1,1168 1636.3,1206 1637.5,1185 1638.8,1215 1640,1195 1641.2,1196 1642.5,1199 1643.7,1220 1644.9,1202 1646.2,1225 1647.4,1222 1648.6,1229 1649.9,1204 1651.1,1226 1652.3,1211 1653.6,1206 1654.8,1213 1656,1237 1657.3,1215 1658.5,1241 1659.7,1217 1661,1243 1662.2,1219 1663.4,1238 1664.7,1222 1665.9,1217 1667.1,1223 1668.4,1243 1669.6,1221 1670.8,1244 1672.1,1220 1673.3,1246 1674.5,1221 1675.8,1223 1677,1216 1678.2,1245 1679.5,1217 1680.7,1241 1681.9,1222 1683.2,1237 1684.4,1217 1685.6,1241 1686.8,1220 1688.1,1239 1689.3,1216 1690.5,1236 1691.8,1236 1693,1235 1694.2,1212 1695.5,1220 1696.7,1212 1697.9,1235 1699.2,1217 1700.4,1238 1701.6,1219 1702.9,1237 1704.1,1219 1705.3,1241 1706.6,1217 1707.8,1244 1709,1218 1710.3,1239 1711.5,1217 1712.7,1241 1714,1218 1715.2,1218 1716.4,1240 1717.7,1241 1718.9,1223 1720.1,1243 1721.4,1218 1722.6,1241 1723.8,1223 1725.1,1243 1726.3,1227 1727.5,1246 1728.8,1246 1730,1242 1731.2,1228 1732.5,1245 1733.7,1221 1734.9,1250 1736.2,1226 1737.4,1246 1738.6,1223 1739.9,1229 1741.1,1231 1742.3,1249 1743.5,1232 1744.8,1254 1746,1231 1747.2,1253 1748.5,1254 1749.7,1254 1750.9,1229 1752.2,1254 1753.4,1233 1754.6,1234 1755.9,1249 1757.1,1252 1758.3,1233 1759.6,1257 1760.8,1233 1762,1253 1763.3,1234 1764.5,1232 1765.7,1254 1767,1256 1768.2,1248 1769.4,1254 1770.7,1226 1771.9,1248 1773.1,1228 1774.4,1234 1775.6,1230 1776.8,1257 1778.1,1248 1779.3,1253 1780.5,1234 1781.8,1251 1783,1233 1784.2,1231 1785.5,1229 1786.7,1249 1787.9,1233 1789.2,1248 1790.4,1232 1791.6,1248 1792.9,1234 1794.1,1253 1795.3,1230 1796.5,1234 1797.8,1230 1799,1230 1800.2,1249 1801.5,1249 1802.7,1248 1803.9,1251 1805.2,1234 1806.4,1251 1807.6,1232 1808.9,1231 1810.1,1253 1811.3,1248 1812.6,1249 1813.8,1250 1815,1232 1816.3,1229 1817.5,1233 1818.7,1255 1820,1225 1821.2,1248 1822.4,1231 1823.7,1248 1824.9,1232 1826.1,1248 1827.4,1230 1828.6,1227 1829.8,1232 1831.1,1252 1832.3,1228 1833.5,1250 1834.8,1253 1836,1250 1837.2,1226 1838.5,1254 1839.7,1225 1840.9,1249 1842.2,1231 1843.4,1249 1844.6,1226 1845.9,1249 1847.1,1229 1848.3,1225 1849.6,1228 1850.8,1243 1852,1220 1853.2,1249 1854.5,1224 1855.7,1241 1856.9,1223 1858.2,1243 1859.4,1217 1860.6,1232 1861.9,1209 1863.1,1203 1864.3,1195 1865.6,1213 1866.8,1186 1868,1215 1869.3,1194 1870.5,1215 1871.7,1195 1873,1212 1874.2,1193 1875.4,1213 1876.7,1198 1877.9,1214 1879.1,1212 1880.4,1211 1881.6,1188 1882.8,1199 1884.1,1171 1885.3,1157 1886.5,1130 1887.8,1123 1889,1077 1890.2,1064 1891.5,1037 1892.7,1070 1893.9,1067 1895.2,1104 1896.4,1095 1897.6,1098 1898.9,1105 1900.1,1153 1901.3,1152 1902.6,1190 1903.8,1187 1905,1195 1906.3,1202 1907.5,1227 1908.7,1213 1909.9,1220 1911.2,1218 1912.4,1240 1913.6,1225 1914.9,1251 1916.1,1227 1917.3,1253 1918.6,1224 1919.8,1252 1921,1228 1922.3,1252 1923.5,1232 1924.7,1253 1926,1229 1927.2,1254 1928.4,1234 1929.7,1247 1930.9,1231 1932.1,1250 1933.4,1229 1934.6,1228 1935.8,1228 1937.1,1223 1938.3,1245 1939.5,1237 1940.8,1229 1942,1226 1943.2,1200 1944.5,1205 1945.7,1176 1946.9,1175 1948.2,1131 1949.4,1119 1950.6,1081 1951.9,1063 1953.1,1040 1954.3,1071 1955.6,1073 1956.8,1102 1958,1095 1959.3,1099 1960.5,1109 1961.7,1150 1963,1158 1964.2,1200 1965.4,1211 1966.6,1199 1967.9,1213 1969.1,1240 1970.3,1223 1971.6,1250 1972.8,1233 1974,1252 1975.3,1239 1976.5,1242 1977.7,1244 1979,1261 1980.2,1241 1981.4,1263 1982.7,1247 1983.9,1270 1985.1,1251 1986.4,1251 1987.6,1252 1988.8,1271 1990.1,1274 1991.3,1268 1992.5,1252 1993.8,1269 1995,1255 1996.2,1271 1997.5,1256 1998.7,1255 1999.9,1272 2001.2,1273 2002.4,1257 2003.6,1273 2004.9,1258 2006.1,1273 2007.3,1255 2008.6,1273 2009.8,1251 2011,1273 2012.3,1255 2013.5,1274 2014.7,1274 2016,1279 2017.2,1277 2018.4,1275 2019.7,1260 2020.9,1281 2022.1,1280 2023.3,1276 2024.6,1262 2025.8,1279 2027,1263 2028.3,1277 2029.5,1258 2030.7,1259 2032,1263 2033.2,1278 2034.4,1278 2035.7,1281 2036.9,1262 2038.1,1263 2039.4,1257 2040.6,1277 2041.8,1260 2043.1,1277 2044.3,1260 2045.5,1277 2046.8,1257 2048,1278" stroke="#ff00ff"/>
<polyline points="171,1454 172.2,1428 173.3,1447 174.5,1429 175.6,1428 176.8,1429 177.9,1450 179.1,1423 180.2,1448 181.4,1423 182.5,1450 183.7,1424 184.8,1427 186,1448 187.1,1443 188.3,1424 189.4,1443 190.6,1421 191.7,1447 192.9,1425 194,1445 195.2,1420 196.3,1444 197.5,1424 198.6,1441 199.8,1417 200.9,1441 202.1,1423 203.2,1446 204.4,1440 205.5,1440 206.7,1441 207.8,1440 209,1423 210.1,1445 211.3,1439 212.4,1447 213.6,1422 214.7,1439 215.9,1442 217,1438 218.2,1440 219.3,1440 220.5,1418 221.6,1446 222.8,1419 223.9,1446 225.1,1420 226.2,1442 227.4,1419 228.6,1443 229.7,1418 230.9,1444 232,1420 233.2,1420 234.3,1417 235.5,1441 236.6,1419 237.8,1443 238.9,1419 240.1,1445 241.2,1411 242.4,1436 243.5,1441 244.7,1444 245.8,1420 247,1442 248.1,1416 249.3,1439 250.4,1419 251.6,1442 252.7,1419 253.9,1436 255,1437 256.2,1446 257.3,1417 258.5,1436 259.6,1417 260.8,1442 261.9,1415 263.1,1441 264.2,1412 265.4,1436 266.5,1417 267.7,1411 268.8,1417 270,1415 271.1,1411 272.3,1414 273.4,1409 274.6,1434 275.7,1413 276.9,1436 278,1415 279.2,1434 280.3,1415 281.5,1439 282.6,1413 283.8,1433 284.9,1410 286.1,1439 287.3,1413 288.4,1432 289.6,1409 290.7,1436 291.9,1409 293,1431 294.2,1414 295.3,1441 296.5,1434 297.6,1432 298.8,1414 299.9,1433 301.1,1413 302.2,1431 303.4,1410 304.5,1431 305.7,1404 306.8,1431 308,1405 309.1,1432 310.3,1413 311.4,1436 312.6,1411 313.7,1413 314.9,1437 316,1410 317.2,1410 318.3,1431 319.5,1406 320.6,1434 321.8,1413 322.9,1438 324.1,1410 325.2,1430 326.4,1413 327.5,1430 328.7,1412 329.8,1430 331,1410 332.1,1412 333.3,1406 334.4,1432 335.6,1430 336.7,1430 337.9,1429 339,1431 340.2,1410 341.3,1429 342.5,1408 343.6,1431 344.8,1409 346,1432 347.1,1408 348.3,1435 349.4,1409 350.6,1429 351.7,1427 352.9,1406 354,1408 355.2,1426 356.3,1408 357.5,1430 358.6,1402 359.8,1431 360.9,1433 362.1,1426 363.2,1403 364.4,1434 365.5,1405 366.7,1404 367.8,1402 369,1424 370.1,1399 371.3,1426 372.4,1430 373.6,1406 374.7,1404 375.9,1403 377,1400 378.2,1427 379.3,1427 380.5,1432 381.6,1404 382.8,1424 383.9,1397 385.1,1424 386.2,1401 387.4,1424 388.5,1394 389.7,1426 390.8,1398 392,1421 393.1,1402 394.3,1427 395.4,1403 396.6,1427 397.7,1394 398.9,1397 400,1397 401.2,1421 402.4,1402 403.5,1429 404.7,1401 405.8,1394 407,1397 408.1,1429 409.3,1402 410.4,1426 411.6,1396 412.7,1422 413.9,1401 415,1419 416.2,1392 417.3,1420 418.5,1395 419.6,1391 420.8,1401 421.9,1418 423.1,1401 424.2,1420 425.4,1425 426.5,1394 427.7,1397 428.8,1418 430,1400 431.1,1418 432.3,1400 433.4,1418 434.6,1400 435.7,1420 436.9,1399 438,1399 439.2,1399 440.3,1423 441.5,1417 442.6,1416 443.8,1397 444.9,1416 446.1,1396 447.2,1416 448.4,1396 449.5,1418 450.7,1414 451.8,1422 453,1387 454.1,1415 455.3,1389 456.4,1412 457.6,1412 458.8,1420 459.9,1390 461.1,1416 462.2,1385 463.4,1415 464.5,1389 465.7,1410 466.8,1391 468,1416 469.1,1385 470.3,1390 471.4,1382 472.6,1388 473.7,1381 474.9,1407 476,1388 477.2,1414 478.3,1379 479.5,1408 480.6,1378 481.8,1386 482.9,1404 484.1,1414 485.2,1376 486.4,1408 487.5,1384 488.7,1408 489.8,1384 491,1403 492.1,1409 493.3,1383 494.4,1401 495.6,1403 496.7,1377 497.9,1381 499,1374 500.2,1408 501.3,1381 502.5,1401 503.6,1373 504.8,1402 505.9,1375 507.1,1400 508.2,1374 509.4,1407 510.5,1374 511.7,1408 512.8,1379 514,1378 515.1,1374 516.3,1405 517.5,1378 518.6,1399 519.8,1380 520.9,1401 522.1,1405 523.2,1408 524.4,1370 525.5,1400 526.7,1370 527.8,1400 529,1380 530.1,1408 531.3,1380 532.4,1401 533.6,1373 534.7,1402 535.9,1372 537,1401 538.2,1377 539.3,1399 540.5,1375 541.6,1400 542.8,1375 543.9,1401 545.1,1374 546.2,1399 547.4,1396 548.5,1399 549.7,1373 550.8,1392 552,1371 553.1,1398 554.3,1366 555.4,1398 556.6,1365 557.7,1397 558.9,1362 560,1396 561.2,1367 562.3,1398 563.5,1367 564.6,1393 565.8,1363 566.9,1387 568.1,1367 569.2,1386 570.4,1367 571.5,1389 572.7,1363 573.8,1384 575,1384 576.2,1383 577.3,1387 578.5,1389 579.6,1354 580.8,1383 581.9,1355 583.1,1381 584.2,1360 585.4,1383 586.5,1358 587.7,1380 588.8,1358 590,1383 591.1,1349 592.3,1383 593.4,1377 594.6,1377 595.7,1357 596.9,1388 598,1378 599.2,1376 600.3,1349 601.5,1376 602.6,1357 603.8,1355 604.9,1356 606.1,1377 607.2,1352 608.4,1374 609.5,1349 610.7,1379 611.8,1350 613,1350 614.1,1345 615.3,1371 616.4,1348 617.6,1378 618.7,1347 619.9,1368 621,1345 622.2,1372 623.3,1339 624.5,1373 625.6,1343 626.8,1370 627.9,1337 629.1,1361 630.2,1340 631.4,1368 632.6,1338 633.7,1359 634.9,1339 636,1359 637.2,1333 638.3,1358 639.5,1338 640.6,1367 641.8,1337 642.9,1363 644.1,1330 645.2,1364 646.4,1333 647.5,1360 648.7,1332 649.8,1359 651,1331 652.1,1363 653.3,1357 654.4,1357 655.6,1331 656.7,1358 657.9,1331 659,1329 660.2,1331 661.3,1353 662.5,1329 663.6,1353 664.8,1329 665.9,1351 667.1,1319 668.2,1329 669.4,1360 670.5,1354 671.7,1323 672.8,1347 674,1320 675.1,1339 676.3,1314 677.4,1336 678.6,1335 679.7,1333 680.9,1307 682,1335 683.2,1296 684.3,1327 685.5,1296 686.6,1330 687.8,1325 688.9,1301 690.1,1290 691.3,1330 692.4,1296 693.6,1294 694.7,1288 695.9,1324 697,1299 698.2,1319 699.3,1294 700.5,1319 701.6,1285 702.8,1329 703.9,1291 705.1,1321 706.2,1316 707.4,1285 708.5,1291 709.7,1285 710.8,1290 712,1321 713.1,1291 714.3,1324 715.4,1284 716.6,1312 717.7,1287 718.9,1311 720,1314 721.2,1321 722.3,1286 723.5,1312 724.6,1287 725.8,1313 726.9,1287 728.1,1314 729.2,1283 730.4,1317 731.5,1289 732.7,1322 733.8,1287 735,1312 736.1,1285 737.3,1320 738.4,1288 739.6,1278 740.7,1281 741.9,1312 743,1284 744.2,1311 745.3,1279 746.5,1310 747.7,1274 748.8,1311 750,1282 751.1,1317 752.3,1284 753.4,1316 754.6,1280 755.7,1283 756.9,1277 758,1305 759.2,1279 760.3,1278 761.5,1316 762.6,1309 763.8,1279 764.9,1309 766.1,1309 767.2,1303 768.4,1279 769.5,1281 770.7,1281 771.8,1280 773,1281 774.1,1303 775.3,1281 776.4,1307 777.6,1279 778.7,1303 779.9,1268 781,1310 782.2,1275 783.3,1308 784.5,1274 785.6,1303 786.8,1274 787.9,1305 789.1,1281 790.2,1304 791.4,1272 792.5,1305 793.7,1313 794.8,1316 796,1269 797.1,1306 798.3,1276 799.4,1307 800.6,1280 801.7,1309 802.9,1271 804,1302 805.2,1278 806.4,1306 807.5,1267 808.7,1302 809.8,1268 811,1300 812.1,1274 813.3,1301 814.4,1268 815.6,1300 816.7,1278 817.9,1302 819,1270 820.2,1307 821.3,1277 822.5,1307 823.6,1300 824.8,1302 825.9,1310 827.1,1300 828.2,1277 829.4,1301 830.5,1277 831.7,1303 832.8,1275 834,1304 835.1,1277 836.3,1308 837.4,1275 838.6,1298 839.7,1271 840.9,1298 842,1275 843.2,1305 844.3,1275 845.5,1309 846.6,1274 847.8,1301 848.9,1274 850.1,1309 851.2,1261 852.4,1301 853.5,1271 854.7,1296 855.8,1298 857,1294 858.1,1266 859.3,1303 860.4,1270 861.6,1292 862.8,1256 863.9,1301 865.1,1268 866.2,1290 867.4,1262 868.5,1299 869.7,1254 870.8,1266 872,1292 873.1,1263 874.3,1256 875.4,1291 876.6,1266 877.7,1288 878.9,1262 880,1288 881.2,1262 882.3,1292 883.5,1261 884.6,1291 885.8,1286 886.9,1293 888.1,1263 889.2,1289 890.4,1262 891.5,1287 892.7,1253 893.8,1293 895,1250 896.1,1289 897.3,1256 898.4,1291 899.6,1282 900.7,1281 901.9,1292 903,1288 904.2,1256 905.3,1282 906.5,1294 907.6,1258 908.8,1258 909.9,1293 911.1,1251 912.2,1291 913.4,1247 914.5,1294 915.7,1283 916.8,1282 918,1254 919.1,1283 920.3,1257 921.5,1286 922.6,1248 923.8,1285 924.9,1257 926.1,1282 927.2,1291 928.4,1287 929.5,1258 930.7,1290 931.8,1259 933,1282 934.1,1258 935.3,1291 936.4,1256 937.6,1289 938.7,1250 939.9,1297 941,1252 942.2,1287 943.3,1258 944.5,1285 945.6,1285 946.8,1261 947.9,1262 949.1,1290 950.2,1264 951.4,1298 952.5,1261 953.7,1287 954.8,1292 956,1291 957.1,1257 958.3,1299 959.4,1289 960.6,1286 961.7,1287 962.9,1288 964,1263 965.2,1289 966.3,1258 967.5,1290 968.6,1264 969.8,1263 970.9,1263 972.1,1292 973.2,1261 974.4,1290 975.5,1261 976.7,1292 977.9,1250 979,1290 980.2,1262 981.3,1293 982.5,1263 983.6,1292 984.8,1259 985.9,1286 987.1,1263 988.2,1287 989.4,1262 990.5,1297 991.7,1257 992.8,1290 994,1289 995.1,1287 996.3,1264 997.4,1254 998.6,1263 999.7,1288 1000.9,1253 1002,1288 1003.2,1256 1004.3,1289 1005.5,1263 1006.6,1263 1007.8,1264 1008.9,1288 1010.1,1264 1011.2,1262 1012.4,1262 1013.5,1264 1014.7,1262 1015.8,1295 1017,1255 1018.1,1285 1019.3,1262 1020.4,1289 1021.6,1256 1022.7,1283 1023.9,1259 1025,1286 1026.2,1253 1027.3,1286 1028.5,1254 1029.6,1293 1030.8,1250 1031.9,1284 1033.1,1295 1034.2,1286 1035.4,1263 1036.6,1295 1037.7,1254 1038.9,1288 1040,1259 1041.2,1289 1042.3,1256 1043.5,1265 1044.6,1265 1045.8,1258 1046.9,1268 1048.1,1295 1049.2,1269 1050.4,1291 1051.5,1265 1052.7,1301 1053.8,1267 1055,1291 1056.1,1268 1057.3,1294 1058.4,1269 1059.6,1291 1060.7,1268 1061.9,1301 1063,1266 1064.2,1291 1065.3,1265 1066.5,1264 1067.6,1296 1068.8,1298 1069.9,1265 1071.1,1291 1072.2,1264 1073.4,1296 1074.5,1266 1075.7,1291 1076.8,1268 1078,1264 1079.1,1261 1080.3,1291 1081.4,1261 1082.6,1294 1083.7,1264 1084.9,1299 1086,1269 1087.2,1298 1088.3,1261 1089.5,1294 1090.6,1268 1091.8,1296" stroke="#008000"/>
<polyline points="1123.5,1356 1124.8,1340 1126,1356 1127.2,1336 1128.5,1360 1129.7,1337 1130.9,1362 1132.2,1354 1133.4,1361 1134.6,1338 1135.9,1357 1137.1,1337 1138.3,1358 1139.6,1332 1140.8,1331 1142,1353 1143.3,1353 1144.5,1332 1145.7,1357 1147,1336 1148.2,1355 1149.4,1336 1150.7,1363 1151.9,1339 1153.1,1358 1154.4,1333 1155.6,1355 1156.8,1360 1158.1,1361 1159.3,1355 1160.5,1355 1161.8,1337 1163,1362 1164.2,1330 1165.5,1360 1166.7,1335 1167.9,1358 1169.2,1332 1170.4,1352 1171.6,1328 1172.9,1326 1174.1,1328 1175.3,1344 1176.6,1325 1177.8,1343 1179,1312 1180.2,1329 1181.5,1294 1182.7,1307 1183.9,1281 1185.2,1317 1186.4,1294 1187.6,1327 1188.9,1305 1190.1,1331 1191.3,1319 1192.6,1347 1193.8,1348 1195,1350 1196.3,1335 1197.5,1359 1198.7,1339 1200,1362 1201.2,1341 1202.4,1337 1203.7,1363 1204.9,1369 1206.1,1346 1207.4,1367 1208.6,1346 1209.8,1363 1211.1,1364 1212.3,1364 1213.5,1345 1214.8,1371 1216,1349 1217.2,1349 1218.5,1350 1219.7,1368 1220.9,1350 1222.2,1367 1223.4,1344 1224.6,1369 1225.9,1351 1227.1,1372 1228.3,1352 1229.6,1372 1230.8,1347 1232,1370 1233.3,1353 1234.5,1369 1235.7,1346 1236.9,1374 1238.2,1378 1239.4,1370 1240.6,1353 1241.9,1375 1243.1,1352 1244.3,1353 1245.6,1370 1246.8,1378 1248,1355 1249.3,1375 1250.5,1352 1251.7,1376 1253,1351 1254.2,1373 1255.4,1353 1256.7,1371 1257.9,1351 1259.1,1371 1260.4,1371 1261.6,1370 1262.8,1354 1264.1,1370 1265.3,1370 1266.5,1371 1267.8,1354 1269,1370 1270.2,1355 1271.5,1374 1272.7,1373 1273.9,1372 1275.2,1356 1276.4,1378 1277.6,1358 1278.9,1374 1280.1,1358 1281.3,1355 1282.6,1357 1283.8,1383 1285,1379 1286.3,1379 1287.5,1361 1288.7,1376 1290,1357 1291.2,1381 1292.4,1353 1293.6,1351 1294.9,1382 1296.1,1377 1297.3,1355 1298.6,1375 1299.8,1350 1301,1350 1302.3,1354 1303.5,1374 1304.7,1357 1306,1379 1307.2,1354 1308.4,1379 1309.7,1355 1310.9,1382 1312.1,1358 1313.4,1363 1314.6,1358 1315.8,1380 1317.1,1358 1318.3,1379 1319.5,1362 1320.8,1380 1322,1363 1323.2,1388 1324.5,1385 1325.7,1387 1326.9,1359 1328.2,1380 1329.4,1361 1330.6,1386 1331.9,1361 1333.1,1381 1334.3,1365 1335.6,1385 1336.8,1366 1338,1384 1339.3,1365 1340.5,1382 1341.7,1367 1343,1382 1344.2,1384 1345.4,1390 1346.7,1363 1347.9,1367 1349.1,1363 1350.3,1389 1351.6,1361 1352.8,1388 1354,1366 1355.3,1389 1356.5,1370 1357.7,1389 1359,1371 1360.2,1390 1361.4,1368 1362.7,1388 1363.9,1372 1365.1,1390 1366.4,1373 1367.6,1389 1368.8,1392 1370.1,1387 1371.3,1365 1372.5,1394 1373.8,1371 1375,1366 1376.2,1366 1377.5,1390 1378.7,1369 1379.9,1386 1381.2,1369 1382.4,1389 1383.6,1363 1384.9,1357 1386.1,1360 1387.3,1374 1388.6,1354 1389.8,1362 1391,1335 1392.3,1339 1393.5,1306 1394.7,1325 1396,1315 1397.2,1346 1398.4,1326 1399.7,1344 1400.9,1334 1402.1,1360 1403.4,1353 1404.6,1377 1405.8,1362 1407,1382 1408.3,1369 1409.5,1386 1410.7,1372 1412,1373 1413.2,1374 1414.4,1391 1415.7,1376 1416.9,1391 1418.1,1372 1419.4,1392 1420.6,1372 1421.8,1394 1423.1,1375 1424.3,1399 1425.5,1379 1426.8,1393 1428,1378 1429.2,1402 1430.5,1378 1431.7,1396 1432.9,1397 1434.2,1394 1435.4,1377 1436.6,1398 1437.9,1373 1439.1,1398 1440.3,1376 1441.6,1395 1442.8,1378 1444,1395 1445.3,1396 1446.5,1395 1447.7,1379 1449,1395 1450.2,1380 1451.4,1382 1452.7,1374 1453.9,1398 1455.1,1382 1456.4,1402 1457.6,1379 1458.8,1403 1460,1384 1461.3,1402 1462.5,1384 1463.7,1405 1465,1385 1466.2,1408 1467.4,1386 1468.7,1402 1469.9,1381 1471.1,1402 1472.4,1379 1473.6,1411 1474.8,1386 1476.1,1387 1477.3,1388 1478.5,1404 1479.8,1384 1481,1403 1482.2,1385 1483.5,1404 1484.7,1406 1485.9,1409 1487.2,1388 1488.4,1408 1489.6,1389 1490.9,1407 1492.1,1385 1493.3,1411 1494.6,1383 1495.8,1406 1497,1391 1498.3,1391 1499.5,1391 1500.7,1410 1502,1392 1503.2,1412 1504.4,1393 1505.7,1413 1506.9,1409 1508.1,1394 1509.4,1391 1510.6,1413 1511.8,1395 1513.1,1410 1514.3,1395 1515.5,1417 1516.7,1394 1518,1411 1519.2,1413 1520.4,1416 1521.7,1388 1522.9,1412 1524.1,1395 1525.4,1390 1526.6,1415 1527.8,1415 1529.1,1391 1530.3,1390 1531.5,1397 1532.8,1414 1534,1412 1535.2,1419 1536.5,1398 1537.7,1413 1538.9,1396 1540.2,1398 1541.4,1413 1542.6,1414 1543.9,1399 1545.1,1418 1546.3,1398 1547.6,1397 1548.8,1393 1550,1420 1551.3,1398 1552.5,1417 1553.7,1398 1555,1420 1556.2,1420 1557.4,1397 1558.7,1399 1559.9,1393 1561.1,1395 1562.4,1419 1563.6,1397 1564.8,1422 1566.1,1399 1567.3,1395 1568.5,1401 1569.8,1422 1571,1400 1572.2,1416 1573.4,1400 1574.7,1416 1575.9,1400 1577.1,1420 1578.4,1402 1579.6,1417 1580.8,1397 1582.1,1399 1583.3,1400 1584.5,1425 1585.8,1403 1587,1420 1588.2,1404 1589.5,1424 1590.7,1398 1591.9,1419 1593.2,1401 1594.4,1422 1595.6,1400 1596.9,1421 1598.1,1418 1599.3,1422 1600.6,1399 1601.8,1419 1603,1419 1604.3,1418 1605.5,1399 1606.7,1423 1608,1402 1609.2,1420 1610.4,1396 1611.7,1415 1612.9,1399 1614.1,1415 1615.4,1415 1616.6,1408 1617.8,1389 1619.1,1406 1620.3,1381 1621.5,1393 1622.8,1359 1624,1362 1625.2,1333 1626.5,1339 1627.7,1367 1628.9,1371 1630.1,1358 1631.4,1373 1632.6,1363 1633.8,1388 1635.1,1374 1636.3,1401 1637.5,1387 1638.8,1411 1640,1391 1641.2,1413 1642.5,1400 1643.7,1416 1644.9,1396 1646.2,1417 1647.4,1398 1648.6,1418 1649.9,1399 1651.1,1421 1652.3,1400 1653.6,1405 1654.8,1405 1656,1425 1657.3,1422 1658.5,1422 1659.7,1407 1661,1409 1662.2,1409 1663.4,1424 1664.7,1410 1665.9,1430 1667.1,1408 1668.4,1426 1669.6,1405 1670.8,1426 1672.1,1405 1673.3,1432 1674.5,1429 1675.8,1434 1677,1413 1678.2,1428 1679.5,1414 1680.7,1432 1681.9,1414 1683.2,1429 1684.4,1409 1685.6,1435 1686.8,1413 1688.1,1429 1689.3,1413 1690.5,1430 1691.8,1408 1693,1431 1694.2,1414 1695.5,1429 1696.7,1408 1697.9,1430 1699.2,1408 1700.4,1436 1701.6,1415 1702.9,1416 1704.1,1412 1705.3,1431 1706.6,1417 1707.8,1431 1709,1415 1710.3,1436 1711.5,1415 1712.7,1439 1714,1419 1715.2,1437 1716.4,1436 1717.7,1437 1718.9,1417 1720.1,1433 1721.4,1419 1722.6,1434 1723.8,1413 1725.1,1439 1726.3,1414 1727.5,1437 1728.8,1434 1730,1439 1731.2,1420 1732.5,1438 1733.7,1420 1734.9,1438 1736.2,1422 1737.4,1442 1738.6,1422 1739.9,1417 1741.1,1416 1742.3,1439 1743.5,1423 1744.8,1438 1746,1421 1747.2,1438 1748.5,1424 1749.7,1445 1750.9,1421 1752.2,1440 1753.4,1425 1754.6,1441 1755.9,1444 1757.1,1425 1758.3,1419 1759.6,1440 1760.8,1440 1762,1445 1763.3,1427 1764.5,1447 1765.7,1427 1767,1441 1768.2,1425 1769.4,1428 1770.7,1428 1771.9,1444 1773.1,1424 1774.4,1443 1775.6,1422 1776.8,1441 1778.1,1423 1779.3,1443 1780.5,1422 1781.8,1441 1783,1426 1784.2,1441 1785.5,1428 1786.7,1442 1787.9,1426 1789.2,1444 1790.4,1428 1791.6,1443 1792.9,1422 1794.1,1430 1795.3,1429 1796.5,1449 1797.8,1427 1799,1447 1800.2,1431 1801.5,1446 1802.7,1453 1803.9,1448 1805.2,1432 1806.4,1453 1807.6,1428 1808.9,1451 1810.1,1433 1811.3,1448 1812.6,1428 1813.8,1448 1815,1426 1816.3,1448 1817.5,1432 1818.7,1452 1820,1434 1821.2,1450 1822.4,1431 1823.7,1447 1824.9,1433 1826.1,1447 1827.4,1433 1828.6,1450 1829.8,1447 1831.1,1450 1832.3,1434 1833.5,1453 1834.8,1435 1836,1435 1837.2,1432 1838.5,1450 1839.7,1429 1840.9,1450 1842.2,1431 1843.4,1451 1844.6,1435 1845.9,1451 1847.1,1453 1848.3,1449 1849.6,1430 1850.8,1452 1852,1430 1853.2,1447 1854.5,1429 1855.7,1447 1856.9,1427 1858.2,1445 1859.4,1423 1860.6,1447 1861.9,1424 1863.1,1447 1864.3,1423 1865.6,1438 1866.8,1417 1868,1436 1869.3,1439 1870.5,1436 1871.7,1412 1873,1432 1874.2,1417 1875.4,1438 1876.7,1414 1877.9,1429 1879.1,1411 1880.4,1429 1881.6,1409 1882.8,1424 1884.1,1407 1885.3,1423 1886.5,1394 1887.8,1411 1889,1378 1890.2,1367 1891.5,1367 1892.7,1361 1893.9,1341 1895.2,1373 1896.4,1360 1897.6,1380 1898.9,1370 1900.1,1394 1901.3,1377 1902.6,1406 1903.8,1393 1905,1425 1906.3,1412 1907.5,1437 1908.7,1420 1909.9,1422 1911.2,1427 1912.4,1426 1913.6,1445 1914.9,1433 1916.1,1432 1917.3,1453 1918.6,1435 1919.8,1456 1921,1435 1922.3,1454 1923.5,1457 1924.7,1456 1926,1435 1927.2,1452 1928.4,1438 1929.7,1436 1930.9,1435 1932.1,1453 1933.4,1436 1934.6,1450 1935.8,1429 1937.1,1451 1938.3,1450 1939.5,1444 1940.8,1427 1942,1441 1943.2,1422 1944.5,1430 1945.7,1410 1946.9,1416 1948.2,1383 1949.4,1390 1950.6,1358 1951.9,1367 1953.1,1345 1954.3,1371 1955.6,1359 1956.8,1368 1958,1370 1959.3,1389 1960.5,1381 1961.7,1404 1963,1397 1964.2,1426 1965.4,1418 1966.6,1441 1967.9,1427 1969.1,1445 1970.3,1430 1971.6,1455 1972.8,1437 1974,1457 1975.3,1440 1976.5,1457 1977.7,1445 1979,1462 1980.2,1446 1981.4,1465 1982.7,1448 1983.9,1463 1985.1,1444 1986.4,1451 1987.6,1451 1988.8,1449 1990.1,1452 1991.3,1473 1992.5,1467 1993.8,1468 1995,1451 1996.2,1469 1997.5,1456 1998.7,1470 1999.9,1456 2001.2,1477 2002.4,1473 2003.6,1455 2004.9,1459 2006.1,1457 2007.3,1459 2008.6,1473 2009.8,1460 2011,1459 2012.3,1457 2013.5,1474 2014.7,1461 2016,1481 2017.2,1461 2018.4,1475 2019.7,1456 2020.9,1475 2022.1,1461 2023.3,1479 2024.6,1456 2025.8,1482 2027,1457 2028.3,1478 2029.5,1456 2030.7,1476 2032,1463 2033.2,1480 2034.4,1461 2035.7,1482 2036.9,1464 2038.1,1477 2039.4,1461 2040.6,1476 2041.8,1462 2043.1,1458 2044.3,1476 2045.5,1458 2046.8,1480 2048,1477" stroke="#008000"/>
<polyline points="171,1648 172.2,1630 173.3,1649 174.5,1631 175.6,1632 176.8,1628 177.9,1655 179.1,1631 180.2,1649 181.4,1656 182.5,1652 183.7,1623 184.8,1625 186,1632 187.1,1653 188.3,1648 189.4,1648 190.6,1628 191.7,1648 192.9,1632 194,1623 195.2,1631 196.3,1653 197.5,1627 198.6,1651 199.8,1625 200.9,1648 202.1,1632 203.2,1654 204.4,1631 205.5,1649 206.7,1630 207.8,1653 209,1630 210.1,1655 211.3,1650 212.4,1626 213.6,1625 214.7,1652 215.9,1628 217,1652 218.2,1632 219.3,1650 220.5,1628 221.6,1649 222.8,1632 223.9,1651 225.1,1626 226.2,1653 227.4,1634 228.6,1652 229.7,1635 230.9,1652 232,1656 233.2,1652 234.3,1635 235.5,1628 236.6,1653 237.8,1655 238.9,1627 240.1,1653 241.2,1635 242.4,1659 243.5,1631 244.7,1656 245.8,1632 247,1653 248.1,1637 249.3,1637 250.4,1629 251.6,1653 252.7,1632 253.9,1652 255,1629 256.2,1658 257.3,1629 258.5,1661 259.6,1632 260.8,1659 261.9,1626 263.1,1652 264.2,1636 265.4,1657 266.5,1633 267.7,1652 268.8,1656 270,1656 271.1,1634 272.3,1651 273.4,1626 274.6,1654 275.7,1635 276.9,1657 278,1658 279.2,1652 280.3,1629 281.5,1651 282.6,1631 283.8,1660 284.9,1630 286.1,1652 287.3,1634 288.4,1656 289.6,1654 290.7,1661 291.9,1630 293,1654 294.2,1632 295.3,1636 296.5,1636 297.6,1653 298.8,1636 299.9,1653 301.1,1635 302.2,1654 303.4,1637 304.5,1653 305.7,1654 306.8,1656 308,1635 309.1,1653 310.3,1627 311.4,1653 312.6,1633 313.7,1633 314.9,1627 316,1651 317.2,1633 318.3,1628 319.5,1653 320.6,1633 321.8,1633 322.9,1651 324.1,1630 325.2,1658 326.4,1630 327.5,1651 328.7,1658 329.8,1657 331,1635 332.1,1653 333.3,1628 334.4,1653 335.6,1632 336.7,1654 337.9,1657 339,1659 340.2,1631 341.3,1633 342.5,1639 343.6,1662 344.8,1630 346,1655 347.1,1638 348.3,1662 349.4,1636 350.6,1639 351.7,1633 352.9,1664 354,1639 355.2,1662 356.3,1635 357.5,1658 358.6,1639 359.8,1664 360.9,1630 362.1,1655 363.2,1632 364.4,1655 365.5,1638 366.7,1656 367.8,1631 369,1656 370.1,1637 371.3,1660 372.4,1635 373.6,1655 374.7,1634 375.9,1627 377,1633 378.2,1657 379.3,1626 380.5,1654 381.6,1627 382.8,1650 383.9,1634 385.1,1655 386.2,1629 387.4,1658 388.5,1632 389.7,1649 390.8,1631 392,1657 393.1,1630 394.3,1650 395.4,1630 396.6,1654 397.7,1632 398.9,1628 400,1630 401.2,1655 402.4,1626 403.5,1653 404.7,1632 405.8,1650 407,1631 408.1,1648 409.3,1647 410.4,1649 411.6,1630 412.7,1647 413.9,1625 415,1652 416.2,1624 417.3,1651 418.5,1628 419.6,1629 420.8,1629 421.9,1648 423.1,1620 424.2,1648 425.4,1627 426.5,1622 427.7,1646 428.8,1645 430,1620 431.1,1645 432.3,1626 433.4,1645 434.6,1628 435.7,1654 436.9,1625 438,1648 439.2,1629 440.3,1621 441.5,1627 442.6,1645 443.8,1648 444.9,1645 446.1,1622 447.2,1627 448.4,1628 449.5,1628 450.7,1628 451.8,1644 453,1648 454.1,1644 455.3,1625 456.4,1620 457.6,1622 458.8,1646 459.9,1645 461.1,1644 462.2,1626 463.4,1645 464.5,1617 465.7,1646 466.8,1626 468,1643 469.1,1644 470.3,1644 471.4,1625 472.6,1623 473.7,1621 474.9,1647 476,1620 477.2,1644 478.3,1619 479.5,1625 480.6,1622 481.8,1648 482.9,1620 484.1,1650 485.2,1625 486.4,1645 487.5,1619 488.7,1642 489.8,1624 491,1623 492.1,1618 493.3,1641 494.4,1618 495.6,1646 496.7,1621 497.9,1643 499,1649 500.2,1640 501.3,1624 502.5,1643 503.6,1640 504.8,1641 505.9,1623 507.1,1648 508.2,1642 509.4,1640 510.5,1622 511.7,1640 512.8,1622 514,1639 515.1,1616 516.3,1642 517.5,1622 518.6,1615 519.8,1620 520.9,1638 522.1,1616 523.2,1618 524.4,1640 525.5,1640 526.7,1616 527.8,1647 529,1619 530.1,1645 531.3,1640 532.4,1638 533.6,1616 534.7,1643 535.9,1621 537,1637 538.2,1637 539.3,1637 540.5,1619 541.6,1639 542.8,1617 543.9,1638 545.1,1613 546.2,1636 547.4,1610 548.5,1641 549.7,1618 550.8,1635 552,1618 553.1,1638 554.3,1614 555.4,1634 556.6,1638 557.7,1634 558.9,1610 560,1638 561.2,1615 562.3,1632 563.5,1612 564.6,1615 565.8,1612 566.9,1610 568.1,1631 569.2,1608 570.4,1612 571.5,1634 572.7,1633 573.8,1635 575,1611 576.2,1632 577.3,1611 578.5,1630 579.6,1609 580.8,1629 581.9,1611 583.1,1635 584.2,1636 585.4,1636 586.5,1607 587.7,1638 588.8,1602 590,1630 591.1,1607 592.3,1628 593.4,1608 594.6,1629 595.7,1604 596.9,1628 598,1611 599.2,1632 600.3,1608 601.5,1631 602.6,1607 603.8,1627 604.9,1631 606.1,1629 607.2,1611 608.4,1634 609.5,1606 610.7,1632 611.8,1609 613,1628 614.1,1611 615.3,1635 616.4,1609 617.6,1630 618.7,1610 619.9,1629 621,1607 622.2,1630 623.3,1604 624.5,1628 625.6,1611 626.8,1635 627.9,1611 629.1,1629 630.2,1633 631.4,1628 632.6,1608 633.7,1628 634.9,1602 636,1630 637.2,1608 638.3,1631 639.5,1603 640.6,1627 641.8,1609 642.9,1606 644.1,1607 645.2,1608 646.4,1603 647.5,1603 648.7,1598 649.8,1599 651,1625 652.1,1625 653.3,1602 654.4,1607 655.6,1600 656.7,1627 657.9,1605 659,1630 660.2,1604 661.3,1623 662.5,1599 663.6,1630 664.8,1604 665.9,1630 667.1,1621 668.2,1599 669.4,1601 670.5,1628 671.7,1629 672.8,1602 674,1600 675.1,1594 676.3,1600 677.4,1618 678.6,1599 679.7,1601 680.9,1600 682,1624 683.2,1593 684.3,1623 685.5,1599 686.6,1595 687.8,1596 688.9,1594 690.1,1597 691.3,1615 692.4,1589 693.6,1593 694.7,1594 695.9,1617 697,1597 698.2,1617 699.3,1590 700.5,1591 701.6,1598 702.8,1621 703.9,1593 705.1,1619 706.2,1597 707.4,1589 708.5,1595 709.7,1591 710.8,1598 712,1596 713.1,1616 714.3,1617 715.4,1616 716.6,1618 717.7,1598 718.9,1617 720,1616 721.2,1620 722.3,1598 723.5,1616 724.6,1598 725.8,1624 726.9,1615 728.1,1615 729.2,1590 730.4,1616 731.5,1592 732.7,1614 733.8,1597 735,1594 736.1,1597 737.3,1614 738.4,1596 739.6,1618 740.7,1596 741.9,1613 743,1595 744.2,1618 745.3,1590 746.5,1616 747.7,1595 748.8,1622 750,1595 751.1,1619 752.3,1618 753.4,1617 754.6,1593 755.7,1613 756.9,1592 758,1613 759.2,1586 760.3,1615 761.5,1593 762.6,1622 763.8,1588 764.9,1614 766.1,1587 767.2,1621 768.4,1613 769.5,1615 770.7,1594 771.8,1593 773,1592 774.1,1615 775.3,1592 776.4,1617 777.6,1594 778.7,1596 779.9,1595 781,1614 782.2,1591 783.3,1614 784.5,1613 785.6,1613 786.8,1591 787.9,1614 789.1,1593 790.2,1620 791.4,1617 792.5,1613 793.7,1594 794.8,1591 796,1588 797.1,1612 798.3,1593 799.4,1612 800.6,1594 801.7,1616 802.9,1593 804,1593 805.2,1587 806.4,1611 807.5,1593 808.7,1611 809.8,1594 811,1591 812.1,1592 813.3,1615 814.4,1593 815.6,1610 816.7,1587 817.9,1609 819,1589 820.2,1609 821.3,1583 822.5,1617 823.6,1592 824.8,1619 825.9,1590 827.1,1616 828.2,1586 829.4,1591 830.5,1592 831.7,1612 832.8,1590 834,1611 835.1,1590 836.3,1617 837.4,1590 838.6,1616 839.7,1594 840.9,1617 842,1594 843.2,1617 844.3,1596 845.5,1614 846.6,1618 847.8,1614 848.9,1590 850.1,1621 851.2,1617 852.4,1615 853.5,1596 854.7,1614 855.8,1591 857,1623 858.1,1597 859.3,1614 860.4,1595 861.6,1623 862.8,1614 863.9,1613 865.1,1594 866.2,1595 867.4,1595 868.5,1616 869.7,1613 870.8,1612 872,1615 873.1,1621 874.3,1595 875.4,1612 876.6,1594 877.7,1612 878.9,1595 880,1613 881.2,1612 882.3,1615 883.5,1612 884.6,1620 885.8,1591 886.9,1588 888.1,1594 889.2,1618 890.4,1613 891.5,1612 892.7,1586 893.8,1613 895,1593 896.1,1612 897.3,1590 898.4,1593 899.6,1591 900.7,1612 901.9,1593 903,1610 904.2,1586 905.3,1619 906.5,1592 907.6,1587 908.8,1591 909.9,1592 911.1,1611 912.2,1611 913.4,1592 914.5,1611 915.7,1587 916.8,1613 918,1594 919.1,1613 920.3,1592 921.5,1617 922.6,1595 923.8,1614 924.9,1589 926.1,1619 927.2,1595 928.4,1614 929.5,1591 930.7,1614 931.8,1592 933,1596 934.1,1595 935.3,1614 936.4,1593 937.6,1615 938.7,1597 939.9,1615 941,1597 942.2,1616 943.3,1624 944.5,1623 945.6,1591 946.8,1621 947.9,1589 949.1,1615 950.2,1595 951.4,1621 952.5,1624 953.7,1594 954.8,1598 956,1616 957.1,1598 958.3,1621 959.4,1591 960.6,1616 961.7,1598 962.9,1624 964,1590 965.2,1624 966.3,1592 967.5,1625 968.6,1597 969.8,1598 970.9,1591 972.1,1622 973.2,1616 974.4,1619 975.5,1599 976.7,1616 977.9,1589 979,1624 980.2,1599 981.3,1621 982.5,1595 983.6,1619 984.8,1597 985.9,1622 987.1,1600 988.2,1627 989.4,1597 990.5,1620 991.7,1600 992.8,1619 994,1597 995.1,1618 996.3,1597 997.4,1618 998.6,1600 999.7,1619 1000.9,1602 1002,1624 1003.2,1627 1004.3,1621 1005.5,1602 1006.6,1598 1007.8,1603 1008.9,1627 1010.1,1601 1011.2,1625 1012.4,1602 1013.5,1623 1014.7,1600 1015.8,1624 1017,1597 1018.1,1602 1019.3,1602 1020.4,1623 1021.6,1604 1022.7,1622 1023.9,1596 1025,1626 1026.2,1603 1027.3,1628 1028.5,1622 1029.6,1623 1030.8,1623 1031.9,1604 1033.1,1605 1034.2,1625 1035.4,1605 1036.6,1624 1037.7,1600 1038.9,1598 1040,1601 1041.2,1604 1042.3,1605 1043.5,1623 1044.6,1605 1045.8,1627 1046.9,1600 1048.1,1623 1049.2,1604 1050.4,1600 1051.5,1601 1052.7,1623 1053.8,1603 1055,1632 1056.1,1599 1057.3,1624 1058.4,1599 1059.6,1597 1060.7,1598 1061.9,1631 1063,1607 1064.2,1625 1065.3,1602 1066.5,1631 1067.6,1600 1068.8,1625 1069.9,1605 1071.1,1628 1072.2,1606 1073.4,1625 1074.5,1599 1075.7,1624 1076.8,1630 1078,1623 1079.1,1623 1080.3,1624 1081.4,1601 1082.6,1623 1083.7,1597 1084.9,1626 1086,1606 1087.2,1623 1088.3,1630 1089.5,1622 1090.6,1606 1091.8,1623" stroke="#10a5ff"/>
<polyline points="1123.5,1614 1124.8,1613 1126,1627 1127.2,1614 1128.5,1632 1129.7,1614 1130.9,1609 1132.2,1609 1133.4,1627 1134.6,1607 1135.9,1623 1137.1,1610 1138.3,1623 1139.6,1609 1140.8,1622 1142,1608 1143.3,1627 1144.5,1606 1145.7,1624 1147,1602 1148.2,1622 1149.4,1603 1150.7,1619 1151.9,1603 1153.1,1621 1154.4,1601 1155.6,1618 1156.8,1619 1158.1,1615 1159.3,1614 1160.5,1594 1161.8,1599 1163,1616 1164.2,1598 1165.5,1614 1166.7,1597 1167.9,1614 1169.2,1593 1170.4,1606 1171.6,1587 1172.9,1604 1174.1,1589 1175.3,1605 1176.6,1587 1177.8,1599 1179,1586 1180.2,1601 1181.5,1581 1182.7,1602 1183.9,1585 1185.2,1593 1186.4,1594 1187.6,1614 1188.9,1594 1190.1,1613 1191.3,1598 1192.6,1617 1193.8,1604 1195,1624 1196.3,1604 1197.5,1622 1198.7,1603 1200,1607 1201.2,1607 1202.4,1607 1203.7,1627 1204.9,1627 1206.1,1606 1207.4,1609 1208.6,1623 1209.8,1609 1211.1,1609 1212.3,1624 1213.5,1610 1214.8,1624 1216,1607 1217.2,1606 1218.5,1606 1219.7,1624 1220.9,1609 1222.2,1624 1223.4,1606 1224.6,1626 1225.9,1624 1227.1,1629 1228.3,1608 1229.6,1624 1230.8,1606 1232,1624 1233.3,1606 1234.5,1631 1235.7,1610 1236.9,1626 1238.2,1610 1239.4,1625 1240.6,1606 1241.9,1628 1243.1,1624 1244.3,1628 1245.6,1610 1246.8,1628 1248,1610 1249.3,1628 1250.5,1610 1251.7,1625 1253,1610 1254.2,1623 1255.4,1609 1256.7,1610 1257.9,1610 1259.1,1609 1260.4,1606 1261.6,1624 1262.8,1611 1264.1,1624 1265.3,1609 1266.5,1623 1267.8,1610 1269,1625 1270.2,1609 1271.5,1626 1272.7,1605 1273.9,1631 1275.2,1609 1276.4,1626 1277.6,1614 1278.9,1628 1280.1,1615 1281.3,1613 1282.6,1616 1283.8,1631 1285,1616 1286.3,1629 1287.5,1617 1288.7,1631 1290,1617 1291.2,1629 1292.4,1629 1293.6,1629 1294.9,1617 1296.1,1628 1297.3,1612 1298.6,1629 1299.8,1613 1301,1631 1302.3,1613 1303.5,1630 1304.7,1610 1306,1616 1307.2,1615 1308.4,1616 1309.7,1629 1310.9,1633 1312.1,1630 1313.4,1633 1314.6,1613 1315.8,1616 1317.1,1628 1318.3,1612 1319.5,1609 1320.8,1628 1322,1634 1323.2,1631 1324.5,1615 1325.7,1628 1326.9,1633 1328.2,1633 1329.4,1612 1330.6,1634 1331.9,1611 1333.1,1609 1334.3,1614 1335.6,1629 1336.8,1615 1338,1615 1339.3,1628 1340.5,1627 1341.7,1609 1343,1630 1344.2,1608 1345.4,1627 1346.7,1612 1347.9,1628 1349.1,1609 1350.3,1615 1351.6,1629 1352.8,1629 1354,1627 1355.3,1628 1356.5,1627 1357.7,1627 1359,1614 1360.2,1631 1361.4,1614 1362.7,1632 1363.9,1613 1365.1,1631 1366.4,1606 1367.6,1626 1368.8,1606 1370.1,1624 1371.3,1623 1372.5,1606 1373.8,1623 1375,1602 1376.2,1603 1377.5,1622 1378.7,1599 1379.9,1609 1381.2,1605 1382.4,1599 1383.6,1566 1384.9,1564 1386.1,1554 1387.3,1547 1388.6,1542 1389.8,1565 1391,1554 1392.3,1570 1393.5,1561 1394.7,1587 1396,1584 1397.2,1604 1398.4,1610 1399.7,1613 1400.9,1600 1402.1,1617 1403.4,1605 1404.6,1607 1405.8,1603 1407,1623 1408.3,1612 1409.5,1625 1410.7,1632 1412,1628 1413.2,1610 1414.4,1628 1415.7,1612 1416.9,1613 1418.1,1610 1419.4,1629 1420.6,1629 1421.8,1636 1423.1,1611 1424.3,1616 1425.5,1612 1426.8,1635 1428,1616 1429.2,1631 1430.5,1618 1431.7,1615 1432.9,1614 1434.2,1633 1435.4,1614 1436.6,1632 1437.9,1618 1439.1,1637 1440.3,1618 1441.6,1631 1442.8,1618 1444,1633 1445.3,1617 1446.5,1633 1447.7,1632 1449,1634 1450.2,1619 1451.4,1632 1452.7,1618 1453.9,1635 1455.1,1620 1456.4,1633 1457.6,1637 1458.8,1636 1460,1616 1461.3,1635 1462.5,1620 1463.7,1635 1465,1620 1466.2,1635 1467.4,1621 1468.7,1638 1469.9,1620 1471.1,1622 1472.4,1637 1473.6,1636 1474.8,1623 1476.1,1640 1477.3,1617 1478.5,1636 1479.8,1622 1481,1624 1482.2,1624 1483.5,1641 1484.7,1620 1485.9,1639 1487.2,1620 1488.4,1637 1489.6,1643 1490.9,1638 1492.1,1626 1493.3,1638 1494.6,1626 1495.8,1624 1497,1626 1498.3,1643 1499.5,1624 1500.7,1644 1502,1621 1503.2,1637 1504.4,1624 1505.7,1640 1506.9,1621 1508.1,1635 1509.4,1622 1510.6,1634 1511.8,1619 1513.1,1639 1514.3,1620 1515.5,1633 1516.7,1614 1518,1637 1519.2,1620 1520.4,1632 1521.7,1618 1522.9,1638 1524.1,1619 1525.4,1637 1526.6,1615 1527.8,1631 1529.1,1617 1530.3,1633 1531.5,1618 1532.8,1631 1534,1615 1535.2,1632 1536.5,1615 1537.7,1633 1538.9,1617 1540.2,1632 1541.4,1619 1542.6,1634 1543.9,1617 1545.1,1636 1546.3,1619 1547.6,1634 1548.8,1618 1550,1640 1551.3,1622 1552.5,1638 1553.7,1624 1555,1636 1556.2,1638 1557.4,1624 1558.7,1637 1559.9,1643 1561.1,1622 1562.4,1638 1563.6,1621 1564.8,1625 1566.1,1626 1567.3,1644 1568.5,1628 1569.8,1640 1571,1622 1572.2,1641 1573.4,1628 1574.7,1647 1575.9,1628 1577.1,1646 1578.4,1639 1579.6,1644 1580.8,1626 1582.1,1638 1583.3,1618 1584.5,1639 1585.8,1620 1587,1636 1588.2,1619 1589.5,1638 1590.7,1623 1591.9,1638 1593.2,1618 1594.4,1637 1595.6,1622 1596.9,1635 1598.1,1622 1599.3,1634 1600.6,1620 1601.8,1637 1603,1635 1604.3,1631 1605.5,1613 1606.7,1631 1608,1614 1609.2,1609 1610.4,1620 1611.7,1604 1612.9,1598 1614.1,1587 1615.4,1582 1616.6,1586 1617.8,1565 1619.1,1578 1620.3,1580 1621.5,1586 1622.8,1569 1624,1592 1625.2,1578 1626.5,1605 1627.7,1595 1628.9,1614 1630.1,1605 1631.4,1626 1632.6,1609 1633.8,1629 1635.1,1611 1636.3,1630 1637.5,1619 1638.8,1634 1640,1618 1641.2,1637 1642.5,1618 1643.7,1635 1644.9,1624 1646.2,1637 1647.4,1622 1648.6,1625 1649.9,1641 1651.1,1640 1652.3,1627 1653.6,1641 1654.8,1627 1656,1624 1657.3,1625 1658.5,1641 1659.7,1630 1661,1646 1662.2,1626 1663.4,1647 1664.7,1630 1665.9,1643 1667.1,1630 1668.4,1650 1669.6,1630 1670.8,1630 1672.1,1633 1673.3,1646 1674.5,1633 1675.8,1644 1677,1633 1678.2,1632 1679.5,1631 1680.7,1630 1681.9,1630 1683.2,1644 1684.4,1632 1685.6,1645 1686.8,1649 1688.1,1649 1689.3,1626 1690.5,1648 1691.8,1629 1693,1644 1694.2,1631 1695.5,1646 1696.7,1629 1697.9,1643 1699.2,1631 1700.4,1642 1701.6,1627 1702.9,1644 1704.1,1626 1705.3,1630 1706.6,1627 1707.8,1647 1709,1630 1710.3,1648 1711.5,1630 1712.7,1645 1714,1628 1715.2,1642 1716.4,1629 1717.7,1641 1718.9,1625 1720.1,1641 1721.4,1623 1722.6,1647 1723.8,1624 1725.1,1629 1726.3,1626 1727.5,1645 1728.8,1628 1730,1628 1731.2,1625 1732.5,1641 1733.7,1629 1734.9,1646 1736.2,1625 1737.4,1647 1738.6,1625 1739.9,1642 1741.1,1648 1742.3,1642 1743.5,1628 1744.8,1644 1746,1628 1747.2,1645 1748.5,1631 1749.7,1648 1750.9,1643 1752.2,1647 1753.4,1632 1754.6,1649 1755.9,1627 1757.1,1644 1758.3,1646 1759.6,1645 1760.8,1626 1762,1644 1763.3,1633 1764.5,1645 1765.7,1645 1767,1644 1768.2,1629 1769.4,1645 1770.7,1633 1771.9,1644 1773.1,1649 1774.4,1645 1775.6,1632 1776.8,1646 1778.1,1633 1779.3,1631 1780.5,1632 1781.8,1632 1783,1627 1784.2,1645 1785.5,1629 1786.7,1644 1787.9,1632 1789.2,1644 1790.4,1643 1791.6,1645 1792.9,1628 1794.1,1643 1795.3,1646 1796.5,1644 1797.8,1626 1799,1646 1800.2,1624 1801.5,1645 1802.7,1630 1803.9,1642 1805.2,1628 1806.4,1646 1807.6,1624 1808.9,1641 1810.1,1623 1811.3,1627 1812.6,1625 1813.8,1643 1815,1626 1816.3,1641 1817.5,1640 1818.7,1641 1820,1621 1821.2,1639 1822.4,1620 1823.7,1638 1824.9,1624 1826.1,1637 1827.4,1622 1828.6,1637 1829.8,1633 1831.1,1635 1832.3,1632 1833.5,1633 1834.8,1615 1836,1632 1837.2,1616 1838.5,1628 1839.7,1630 1840.9,1627 1842.2,1612 1843.4,1607 1844.6,1607 1845.9,1608 1847.1,1604 1848.3,1624 1849.6,1600 1850.8,1622 1852,1599 1853.2,1621 1854.5,1603 1855.7,1603 1856.9,1619 1858.2,1615 1859.4,1619 1860.6,1594 1861.9,1594 1863.1,1595 1864.3,1593 1865.6,1592 1866.8,1607 1868,1604 1869.3,1581 1870.5,1596 1871.7,1597 1873,1585 1874.2,1565 1875.4,1571 1876.7,1541 1877.9,1542 1879.1,1513 1880.4,1523 1881.6,1503 1882.8,1524 1884.1,1517 1885.3,1542 1886.5,1527 1887.8,1551 1889,1542 1890.2,1576 1891.5,1570 1892.7,1595 1893.9,1587 1895.2,1610 1896.4,1601 1897.6,1623 1898.9,1624 1900.1,1609 1901.3,1608 1902.6,1628 1903.8,1615 1905,1633 1906.3,1617 1907.5,1633 1908.7,1619 1909.9,1635 1911.2,1619 1912.4,1635 1913.6,1622 1914.9,1637 1916.1,1624 1917.3,1637 1918.6,1618 1919.8,1638 1921,1621 1922.3,1622 1923.5,1620 1924.7,1633 1926,1619 1927.2,1634 1928.4,1611 1929.7,1628 1930.9,1613 1932.1,1624 1933.4,1604 1934.6,1617 1935.8,1590 1937.1,1598 1938.3,1570 1939.5,1575 1940.8,1543 1942,1542 1943.2,1518 1944.5,1530 1945.7,1517 1946.9,1538 1948.2,1525 1949.4,1532 1950.6,1543 1951.9,1562 1953.1,1560 1954.3,1583 1955.6,1581 1956.8,1607 1958,1615 1959.3,1623 1960.5,1612 1961.7,1627 1963,1620 1964.2,1638 1965.4,1625 1966.6,1638 1967.9,1625 1969.1,1627 1970.3,1625 1971.6,1628 1972.8,1628 1974,1650 1975.3,1634 1976.5,1652 1977.7,1635 1979,1647 1980.2,1631 1981.4,1649 1982.7,1637 1983.9,1651 1985.1,1634 1986.4,1650 1987.6,1634 1988.8,1657 1990.1,1638 1991.3,1652 1992.5,1640 1993.8,1653 1995,1641 1996.2,1654 1997.5,1643 1998.7,1655 1999.9,1644 2001.2,1660 2002.4,1661 2003.6,1657 2004.9,1646 2006.1,1658 2007.3,1644 2008.6,1664 2009.8,1643 2011,1658 2012.3,1659 2013.5,1658 2014.7,1645 2016,1659 2017.2,1646 2018.4,1647 2019.7,1647 2020.9,1662 2022.1,1647 2023.3,1658 2024.6,1647 2025.8,1658 2027,1643 2028.3,1659 2029.5,1642 2030.7,1665 2032,1648 2033.2,1663 2034.4,1648 2035.7,1663 2036.9,1643 2038.1,1661 2039.4,1649 2040.6,1663 2041.8,1662 2043.1,1660 2044.3,1662 2045.5,1662 2046.8,1649 2048,1661" stroke="#10a5ff"/>
</g>
<g stroke="#000" fill="none" stroke-linecap="butt">
<path d="M171,60.3H1092.6M1124.6,60.3H2047.8M171,1761H1092.6M1124.6,1761H2047.8" stroke-width="6.6"/>
<path d="M171,57V1794.5M2047.8,57V1794.5" stroke-width="6"/>
<path d="M746.5,1761V1793.5M1431.7,1761V1793.5M458.8,1761V1777.5M1034.3,1761V1777.5M1124.5,1761V1777.5M1739.7,1761V1777.5" stroke-width="5"/>
<path d="M1076.4,91.2L1108.6,27.9M1108.6,91.2L1140.7,27.9M1076.4,1792.6L1108.9,1729.3M1108.2,1792.6L1141.1,1729.3" stroke-width="5.6" stroke-linecap="round"/>
</g>
<g font-family="'Liberation Sans', Arial, sans-serif" fill="#000">
<g font-size="84" text-anchor="middle">
<text x="172" y="1878">10</text>
<text x="746" y="1878">20</text>
<text x="1430.5" y="1878">40</text>
<text x="2046.5" y="1878">50</text>
</g>
<text x="894" y="1958" font-size="84">2θ (degree)</text>
<text transform="translate(111,1199) rotate(-90)" font-size="91.5">Intensity (a.u.)</text>
<g font-size="52.5">
<text x="191" y="318">rice starch</text>
<text x="188" y="580.6">10% NaOH</text>
<text x="190.6" y="850.6">20% NaOH</text>
<text x="190" y="1067.5">30% NaOH</text>
<text x="189" y="1339.8">40% NaOH</text>
<text x="194.7" y="1561.8">50% NaOH</text>
</g>
</g>
</svg>
</body></html>
